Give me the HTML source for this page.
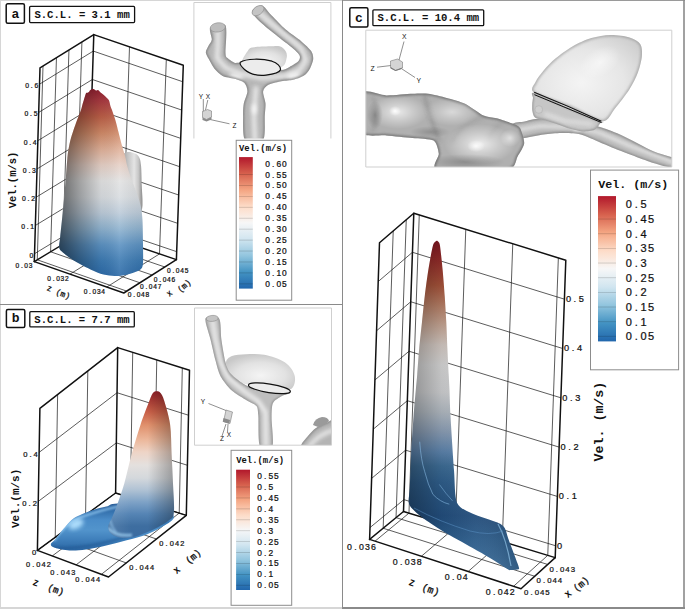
<!DOCTYPE html><html><head><meta charset="utf-8"><style>html,body{margin:0;padding:0;background:#fff;}body{width:685px;height:609px;overflow:hidden;position:relative;}svg{position:absolute;left:0;top:0;}text{font-family:"Liberation Mono",monospace;}</style></head><body>
<svg width="685" height="609" viewBox="0 0 685 609">
<defs><filter id="bl1" filterUnits="userSpaceOnUse" x="-10" y="-10" width="705" height="629"><feGaussianBlur stdDeviation="1.2"/></filter><filter id="bl2" filterUnits="userSpaceOnUse" x="-10" y="-10" width="705" height="629"><feGaussianBlur stdDeviation="2.2"/></filter><filter id="bl05" filterUnits="userSpaceOnUse" x="-10" y="-10" width="705" height="629"><feGaussianBlur stdDeviation="0.6"/></filter></defs>
<rect width="685" height="609" fill="#fff"/>
<line x1="0.00" y1="0.50" x2="342.50" y2="0.50" stroke="#d6d6d6" stroke-width="1" />
<line x1="342.50" y1="0.50" x2="685.00" y2="0.50" stroke="#9a9a9a" stroke-width="1" />
<line x1="0.50" y1="0.00" x2="0.50" y2="609.00" stroke="#d6d6d6" stroke-width="1" />
<line x1="684.00" y1="0.00" x2="684.00" y2="609.00" stroke="#8a8a8a" stroke-width="1.6" />
<line x1="0.00" y1="608.00" x2="342.50" y2="608.00" stroke="#d6d6d6" stroke-width="1.8" />
<line x1="342.50" y1="608.00" x2="685.00" y2="608.00" stroke="#8a8a8a" stroke-width="1.8" />
<line x1="342.50" y1="0.00" x2="342.50" y2="609.00" stroke="#8a8a8a" stroke-width="1" />
<line x1="0.00" y1="304.50" x2="342.50" y2="304.50" stroke="#8a8a8a" stroke-width="1" />
<rect x="6.2" y="3.8" width="18.2" height="19.4" rx="1.5" fill="#fff" stroke="#111" stroke-width="1.5"/>
<text x="15.30" y="18.00" font-size="13" font-weight="bold" text-anchor="middle" fill="#111" >a</text>
<rect x="29.6" y="6.4" width="105.0" height="16.200000000000003" rx="1" fill="#fff" stroke="#111" stroke-width="1.3"/>
<text x="82.10" y="18.30" font-size="10.6" font-weight="bold" text-anchor="middle" fill="#111" >S.C.L. = 3.1 mm</text>
<rect x="6.4" y="309.6" width="18.4" height="18.0" rx="1.5" fill="#fff" stroke="#111" stroke-width="1.5"/>
<text x="15.60" y="322.40" font-size="13" font-weight="bold" text-anchor="middle" fill="#111" >b</text>
<rect x="29.8" y="311.7" width="104.50000000000001" height="15.199999999999989" rx="1" fill="#fff" stroke="#111" stroke-width="1.3"/>
<text x="82.05" y="322.60" font-size="10.6" font-weight="bold" text-anchor="middle" fill="#111" >S.C.L. = 7.7 mm</text>
<rect x="349.8" y="7.8" width="18.099999999999966" height="19.3" rx="1.5" fill="#fff" stroke="#111" stroke-width="1.5"/>
<text x="358.85" y="21.90" font-size="13" font-weight="bold" text-anchor="middle" fill="#111" >c</text>
<rect x="372.9" y="9.8" width="110.80000000000001" height="15.899999999999999" rx="1" fill="#fff" stroke="#111" stroke-width="1.3"/>
<text x="428.30" y="21.40" font-size="10.6" font-weight="bold" text-anchor="middle" fill="#111" >S.C.L. = 10.4 mm</text>
<line x1="34.53" y1="253.69" x2="87.76" y2="221.54" stroke="#151515" stroke-width="0.7" />
<line x1="87.76" y1="221.54" x2="176.68" y2="251.67" stroke="#151515" stroke-width="0.7" />
<line x1="35.36" y1="225.44" x2="88.68" y2="193.13" stroke="#151515" stroke-width="0.7" />
<line x1="88.68" y1="193.13" x2="177.69" y2="223.35" stroke="#151515" stroke-width="0.7" />
<line x1="36.19" y1="197.19" x2="89.59" y2="164.72" stroke="#151515" stroke-width="0.7" />
<line x1="89.59" y1="164.72" x2="178.69" y2="195.02" stroke="#151515" stroke-width="0.7" />
<line x1="37.03" y1="168.94" x2="90.51" y2="136.31" stroke="#151515" stroke-width="0.7" />
<line x1="90.51" y1="136.31" x2="179.70" y2="166.70" stroke="#151515" stroke-width="0.7" />
<line x1="37.86" y1="140.69" x2="91.43" y2="107.90" stroke="#151515" stroke-width="0.7" />
<line x1="91.43" y1="107.90" x2="180.70" y2="138.37" stroke="#151515" stroke-width="0.7" />
<line x1="38.69" y1="112.44" x2="92.35" y2="79.49" stroke="#151515" stroke-width="0.7" />
<line x1="92.35" y1="79.49" x2="181.71" y2="110.05" stroke="#151515" stroke-width="0.7" />
<line x1="39.52" y1="84.19" x2="93.27" y2="51.08" stroke="#151515" stroke-width="0.7" />
<line x1="93.27" y1="51.08" x2="182.72" y2="81.73" stroke="#151515" stroke-width="0.7" />
<line x1="43.01" y1="65.94" x2="37.28" y2="259.80" stroke="#151515" stroke-width="0.7" />
<line x1="56.46" y1="57.64" x2="50.58" y2="251.78" stroke="#151515" stroke-width="0.7" />
<line x1="68.94" y1="49.94" x2="62.92" y2="244.33" stroke="#151515" stroke-width="0.7" />
<line x1="81.91" y1="41.94" x2="75.74" y2="236.59" stroke="#151515" stroke-width="0.7" />
<line x1="129.51" y1="46.85" x2="122.97" y2="241.51" stroke="#151515" stroke-width="0.7" />
<line x1="166.30" y1="59.47" x2="159.51" y2="253.88" stroke="#151515" stroke-width="0.7" />
<line x1="37.28" y1="259.80" x2="126.75" y2="291.13" stroke="#151515" stroke-width="0.7" />
<line x1="50.58" y1="251.78" x2="139.90" y2="282.78" stroke="#151515" stroke-width="0.7" />
<line x1="62.92" y1="244.33" x2="152.10" y2="275.03" stroke="#151515" stroke-width="0.7" />
<line x1="75.74" y1="236.59" x2="164.78" y2="266.98" stroke="#151515" stroke-width="0.7" />
<line x1="122.97" y1="241.51" x2="70.01" y2="274.13" stroke="#151515" stroke-width="0.7" />
<line x1="159.51" y1="253.88" x2="106.80" y2="287.03" stroke="#151515" stroke-width="0.7" />
<polyline points="93.80,34.60 87.50,229.50" fill="none" stroke="#111" stroke-width="1.5" stroke-linejoin="round" stroke-linecap="round"/>
<polyline points="34.30,261.60 87.50,229.50 176.40,259.60" fill="none" stroke="#111" stroke-width="1.4" stroke-linejoin="round" stroke-linecap="round"/>
<line x1="37.40" y1="550.40" x2="115.60" y2="493.00" stroke="#151515" stroke-width="0.7" />
<line x1="115.60" y1="493.00" x2="186.30" y2="515.30" stroke="#151515" stroke-width="0.7" />
<line x1="38.26" y1="501.40" x2="116.32" y2="442.86" stroke="#151515" stroke-width="0.7" />
<line x1="116.32" y1="442.86" x2="187.40" y2="465.27" stroke="#151515" stroke-width="0.7" />
<line x1="39.12" y1="452.40" x2="117.05" y2="392.72" stroke="#151515" stroke-width="0.7" />
<line x1="117.05" y1="392.72" x2="188.51" y2="415.23" stroke="#151515" stroke-width="0.7" />
<line x1="57.64" y1="394.46" x2="55.23" y2="537.31" stroke="#151515" stroke-width="0.7" />
<line x1="87.82" y1="370.91" x2="85.57" y2="515.04" stroke="#151515" stroke-width="0.7" />
<line x1="132.71" y1="352.32" x2="130.38" y2="497.66" stroke="#151515" stroke-width="0.7" />
<line x1="156.76" y1="359.89" x2="154.06" y2="505.13" stroke="#151515" stroke-width="0.7" />
<line x1="182.32" y1="367.94" x2="179.23" y2="513.07" stroke="#151515" stroke-width="0.7" />
<line x1="55.23" y1="537.31" x2="126.24" y2="562.93" stroke="#151515" stroke-width="0.7" />
<line x1="85.57" y1="515.04" x2="156.42" y2="538.99" stroke="#151515" stroke-width="0.7" />
<line x1="130.38" y1="497.66" x2="52.26" y2="555.96" stroke="#151515" stroke-width="0.7" />
<line x1="154.06" y1="505.13" x2="76.08" y2="564.87" stroke="#151515" stroke-width="0.7" />
<line x1="179.23" y1="513.07" x2="101.39" y2="574.34" stroke="#151515" stroke-width="0.7" />
<polyline points="117.70,347.60 115.60,493.00" fill="none" stroke="#111" stroke-width="1.5" stroke-linejoin="round" stroke-linecap="round"/>
<polyline points="37.40,550.40 115.60,493.00 186.30,515.30" fill="none" stroke="#111" stroke-width="1.4" stroke-linejoin="round" stroke-linecap="round"/>
<line x1="369.99" y1="527.59" x2="403.91" y2="499.63" stroke="#151515" stroke-width="0.7" />
<line x1="403.91" y1="499.63" x2="555.62" y2="545.76" stroke="#151515" stroke-width="0.7" />
<line x1="371.64" y1="478.39" x2="405.62" y2="450.16" stroke="#151515" stroke-width="0.7" />
<line x1="405.62" y1="450.16" x2="557.38" y2="496.44" stroke="#151515" stroke-width="0.7" />
<line x1="373.28" y1="429.18" x2="407.33" y2="400.69" stroke="#151515" stroke-width="0.7" />
<line x1="407.33" y1="400.69" x2="559.14" y2="447.12" stroke="#151515" stroke-width="0.7" />
<line x1="374.92" y1="379.98" x2="409.03" y2="351.22" stroke="#151515" stroke-width="0.7" />
<line x1="409.03" y1="351.22" x2="560.90" y2="397.80" stroke="#151515" stroke-width="0.7" />
<line x1="376.56" y1="330.78" x2="410.74" y2="301.75" stroke="#151515" stroke-width="0.7" />
<line x1="410.74" y1="301.75" x2="562.65" y2="348.48" stroke="#151515" stroke-width="0.7" />
<line x1="378.20" y1="281.57" x2="412.45" y2="252.28" stroke="#151515" stroke-width="0.7" />
<line x1="412.45" y1="252.28" x2="564.41" y2="299.16" stroke="#151515" stroke-width="0.7" />
<line x1="393.22" y1="230.90" x2="383.16" y2="528.24" stroke="#151515" stroke-width="0.7" />
<line x1="406.25" y1="219.69" x2="396.04" y2="517.64" stroke="#151515" stroke-width="0.7" />
<line x1="419.27" y1="214.89" x2="408.96" y2="513.16" stroke="#151515" stroke-width="0.7" />
<line x1="465.78" y1="229.27" x2="455.38" y2="527.27" stroke="#151515" stroke-width="0.7" />
<line x1="512.75" y1="243.80" x2="502.26" y2="541.51" stroke="#151515" stroke-width="0.7" />
<line x1="558.35" y1="257.90" x2="547.77" y2="555.34" stroke="#151515" stroke-width="0.7" />
<line x1="383.16" y1="528.24" x2="534.68" y2="576.26" stroke="#151515" stroke-width="0.7" />
<line x1="396.04" y1="517.64" x2="547.68" y2="564.44" stroke="#151515" stroke-width="0.7" />
<line x1="408.96" y1="513.16" x2="375.05" y2="541.17" stroke="#151515" stroke-width="0.7" />
<line x1="455.38" y1="527.27" x2="421.38" y2="556.26" stroke="#151515" stroke-width="0.7" />
<line x1="502.26" y1="541.51" x2="468.16" y2="571.49" stroke="#151515" stroke-width="0.7" />
<line x1="547.77" y1="555.34" x2="513.58" y2="586.28" stroke="#151515" stroke-width="0.7" />
<polyline points="413.80,213.20 403.50,511.50" fill="none" stroke="#111" stroke-width="1.5" stroke-linejoin="round" stroke-linecap="round"/>
<polyline points="369.60,539.40 403.50,511.50 555.20,557.60" fill="none" stroke="#111" stroke-width="1.4" stroke-linejoin="round" stroke-linecap="round"/>
<defs>
<linearGradient id="ga" gradientUnits="userSpaceOnUse" x1="0" y1="89" x2="0" y2="276"><stop offset="0.000" stop-color="#902030"/><stop offset="0.059" stop-color="#a83840"/><stop offset="0.150" stop-color="#bc6048"/><stop offset="0.235" stop-color="#d08a68"/><stop offset="0.321" stop-color="#e0b098"/><stop offset="0.406" stop-color="#e6d0c6"/><stop offset="0.492" stop-color="#e2e2e2"/><stop offset="0.578" stop-color="#d8dce0"/><stop offset="0.663" stop-color="#bccbd9"/><stop offset="0.749" stop-color="#8eb2cf"/><stop offset="0.834" stop-color="#5c92c2"/><stop offset="0.920" stop-color="#3c7ab2"/><stop offset="1.000" stop-color="#2c6aa8"/></linearGradient>
<linearGradient id="shA" gradientUnits="objectBoundingBox" x1="0" y1="0" x2="1" y2="0"><stop offset="0.000" stop-color="#000" stop-opacity="0.55"/><stop offset="0.250" stop-color="#000" stop-opacity="0.28"/><stop offset="0.500" stop-color="#000" stop-opacity="0.05"/><stop offset="0.720" stop-color="#fff" stop-opacity="0.1"/><stop offset="1.000" stop-color="#000" stop-opacity="0.06"/></linearGradient>
<linearGradient id="lobe" gradientUnits="objectBoundingBox" x1="0" y1="0" x2="1" y2="0"><stop offset="0.000" stop-color="#9a9a9a"/><stop offset="0.300" stop-color="#c4c4c4"/><stop offset="0.600" stop-color="#e4e4e4"/><stop offset="0.800" stop-color="#c8c8c8"/><stop offset="1.000" stop-color="#8a8a8a"/></linearGradient>
<linearGradient id="gb" gradientUnits="userSpaceOnUse" x1="0" y1="391" x2="0" y2="540"><stop offset="0.000" stop-color="#902028"/><stop offset="0.060" stop-color="#a83a34"/><stop offset="0.141" stop-color="#c86048"/><stop offset="0.228" stop-color="#e0906c"/><stop offset="0.329" stop-color="#ecb89c"/><stop offset="0.409" stop-color="#eed4c6"/><stop offset="0.497" stop-color="#e4e0de"/><stop offset="0.584" stop-color="#d4d8dc"/><stop offset="0.664" stop-color="#b0c2d4"/><stop offset="0.745" stop-color="#7ea2c6"/><stop offset="0.826" stop-color="#5584b4"/><stop offset="0.906" stop-color="#3e6ea0"/><stop offset="1.000" stop-color="#3a6aa0"/></linearGradient>
<linearGradient id="shB" gradientUnits="objectBoundingBox" x1="0" y1="0" x2="1" y2="0"><stop offset="0.000" stop-color="#fff" stop-opacity="0.12"/><stop offset="0.350" stop-color="#fff" stop-opacity="0"/><stop offset="0.600" stop-color="#000" stop-opacity="0.0"/><stop offset="1.000" stop-color="#000" stop-opacity="0.3"/></linearGradient>
<linearGradient id="tongue" gradientUnits="userSpaceOnUse" x1="0" y1="503" x2="0" y2="551"><stop offset="0.000" stop-color="#2a5c96"/><stop offset="0.167" stop-color="#3470ac"/><stop offset="0.354" stop-color="#4a8cc8"/><stop offset="0.562" stop-color="#5294cc"/><stop offset="0.771" stop-color="#3e7eba"/><stop offset="1.000" stop-color="#2a64a0"/></linearGradient>
<linearGradient id="gc" gradientUnits="userSpaceOnUse" x1="0" y1="241" x2="0" y2="570"><stop offset="0.000" stop-color="#7a1520"/><stop offset="0.058" stop-color="#8e2a28"/><stop offset="0.134" stop-color="#a05038"/><stop offset="0.195" stop-color="#b07a62"/><stop offset="0.255" stop-color="#bfa08f"/><stop offset="0.316" stop-color="#ccc2bc"/><stop offset="0.377" stop-color="#cfcfcf"/><stop offset="0.459" stop-color="#c8c9cb"/><stop offset="0.520" stop-color="#acb4bc"/><stop offset="0.581" stop-color="#8699b0"/><stop offset="0.641" stop-color="#5a80a8"/><stop offset="0.684" stop-color="#3c6a92"/><stop offset="0.733" stop-color="#2e5c88"/><stop offset="0.781" stop-color="#285480"/><stop offset="0.836" stop-color="#224c7a"/><stop offset="0.909" stop-color="#2a5a88"/><stop offset="1.000" stop-color="#3a6c9a"/></linearGradient>
<linearGradient id="shC" gradientUnits="objectBoundingBox" x1="0" y1="0" x2="1" y2="0"><stop offset="0.000" stop-color="#000" stop-opacity="0.3"/><stop offset="0.300" stop-color="#000" stop-opacity="0.05"/><stop offset="0.600" stop-color="#fff" stop-opacity="0.05"/><stop offset="1.000" stop-color="#000" stop-opacity="0.15"/></linearGradient>
</defs>
<path d="M121.50,158.00 C121.50,154.42 122.75,154.50 124.00,153.50 C125.25,152.50 127.17,152.00 129.00,152.00 C130.83,152.00 133.33,152.67 135.00,153.50 C136.67,154.33 138.00,155.03 139.00,157.00 C140.00,158.97 140.53,160.47 141.00,165.30 C141.47,170.13 141.55,179.38 141.80,186.00 C142.05,192.62 142.80,200.67 142.50,205.00 C142.20,209.33 141.58,212.83 140.00,212.00 C138.42,211.17 135.67,206.17 133.00,200.00 C130.33,193.83 125.92,182.00 124.00,175.00 C122.08,168.00 121.50,161.58 121.50,158.00Z" fill="url(#lobe)"/>
<path d="M59.20,247.20 C58.95,245.01 59.74,241.60 60.20,237.00 C60.66,232.40 61.68,222.65 62.30,216.50 C62.91,210.35 63.74,202.15 64.30,196.00 C64.86,189.85 65.56,180.90 66.00,175.50 C66.44,170.10 66.87,163.66 67.20,160.00 C67.53,156.34 67.75,153.97 68.20,151.10 C68.65,148.23 69.44,143.96 70.20,140.90 C70.97,137.84 72.30,133.77 73.30,130.70 C74.30,127.62 75.76,123.48 76.90,120.40 C78.04,117.33 80.05,112.66 80.90,110.20 C81.76,107.74 82.00,106.07 82.60,104.00 C83.20,101.93 84.36,98.04 84.90,96.40 C85.44,94.77 85.77,93.64 86.20,93.10 C86.64,92.56 87.36,92.99 87.80,92.80 C88.23,92.61 88.80,92.14 89.10,91.80 C89.40,91.45 89.50,90.84 89.80,90.50 C90.10,90.16 90.71,89.74 91.10,89.50 C91.49,89.26 91.95,88.95 92.40,88.90 C92.85,88.86 93.65,89.01 94.10,89.20 C94.55,89.39 95.01,90.01 95.40,90.20 C95.79,90.39 96.36,90.55 96.70,90.50 C97.05,90.45 97.40,89.90 97.70,89.90 C98.00,89.90 98.16,90.02 98.70,90.50 C99.24,90.98 100.41,92.30 101.30,93.10 C102.19,93.89 103.61,94.90 104.60,95.80 C105.59,96.70 107.21,98.32 107.90,99.10 C108.59,99.88 108.81,99.92 109.20,101.00 C109.59,102.08 110.11,105.01 110.50,106.30 C110.89,107.59 111.35,108.35 111.80,109.60 C112.25,110.84 112.89,112.75 113.50,114.60 C114.11,116.44 115.17,119.32 115.90,121.90 C116.64,124.48 117.65,128.83 118.40,131.80 C119.15,134.77 120.17,138.92 120.90,141.70 C121.64,144.47 122.66,148.09 123.30,150.30 C123.94,152.51 124.56,153.81 125.20,156.40 C125.84,159.00 126.55,163.85 127.60,167.60 C128.65,171.35 130.82,177.61 132.20,181.40 C133.58,185.19 135.50,189.11 136.80,192.90 C138.11,196.69 140.05,202.56 140.90,206.70 C141.75,210.84 142.19,215.00 142.50,220.50 C142.81,226.00 142.93,237.07 143.00,243.40 C143.07,249.73 143.30,258.86 143.00,262.70 C142.70,266.54 142.35,267.55 141.00,269.00 C139.65,270.45 136.50,271.47 134.00,272.40 C131.50,273.33 127.21,274.68 124.30,275.20 C121.39,275.72 117.72,276.00 114.60,275.90 C111.48,275.79 107.04,275.43 103.50,274.50 C99.96,273.57 94.53,271.26 91.00,269.70 C87.47,268.14 83.31,265.98 80.00,264.10 C76.69,262.23 71.62,259.07 68.90,257.20 C66.19,255.32 63.35,253.10 61.90,251.60 C60.45,250.10 59.46,249.39 59.20,247.20Z" fill="url(#ga)"/><path d="M59.20,247.20 C58.95,245.01 59.74,241.60 60.20,237.00 C60.66,232.40 61.68,222.65 62.30,216.50 C62.91,210.35 63.74,202.15 64.30,196.00 C64.86,189.85 65.56,180.90 66.00,175.50 C66.44,170.10 66.87,163.66 67.20,160.00 C67.53,156.34 67.75,153.97 68.20,151.10 C68.65,148.23 69.44,143.96 70.20,140.90 C70.97,137.84 72.30,133.77 73.30,130.70 C74.30,127.62 75.76,123.48 76.90,120.40 C78.04,117.33 80.05,112.66 80.90,110.20 C81.76,107.74 82.00,106.07 82.60,104.00 C83.20,101.93 84.36,98.04 84.90,96.40 C85.44,94.77 85.77,93.64 86.20,93.10 C86.64,92.56 87.36,92.99 87.80,92.80 C88.23,92.61 88.80,92.14 89.10,91.80 C89.40,91.45 89.50,90.84 89.80,90.50 C90.10,90.16 90.71,89.74 91.10,89.50 C91.49,89.26 91.95,88.95 92.40,88.90 C92.85,88.86 93.65,89.01 94.10,89.20 C94.55,89.39 95.01,90.01 95.40,90.20 C95.79,90.39 96.36,90.55 96.70,90.50 C97.05,90.45 97.40,89.90 97.70,89.90 C98.00,89.90 98.16,90.02 98.70,90.50 C99.24,90.98 100.41,92.30 101.30,93.10 C102.19,93.89 103.61,94.90 104.60,95.80 C105.59,96.70 107.21,98.32 107.90,99.10 C108.59,99.88 108.81,99.92 109.20,101.00 C109.59,102.08 110.11,105.01 110.50,106.30 C110.89,107.59 111.35,108.35 111.80,109.60 C112.25,110.84 112.89,112.75 113.50,114.60 C114.11,116.44 115.17,119.32 115.90,121.90 C116.64,124.48 117.65,128.83 118.40,131.80 C119.15,134.77 120.17,138.92 120.90,141.70 C121.64,144.47 122.66,148.09 123.30,150.30 C123.94,152.51 124.56,153.81 125.20,156.40 C125.84,159.00 126.55,163.85 127.60,167.60 C128.65,171.35 130.82,177.61 132.20,181.40 C133.58,185.19 135.50,189.11 136.80,192.90 C138.11,196.69 140.05,202.56 140.90,206.70 C141.75,210.84 142.19,215.00 142.50,220.50 C142.81,226.00 142.93,237.07 143.00,243.40 C143.07,249.73 143.30,258.86 143.00,262.70 C142.70,266.54 142.35,267.55 141.00,269.00 C139.65,270.45 136.50,271.47 134.00,272.40 C131.50,273.33 127.21,274.68 124.30,275.20 C121.39,275.72 117.72,276.00 114.60,275.90 C111.48,275.79 107.04,275.43 103.50,274.50 C99.96,273.57 94.53,271.26 91.00,269.70 C87.47,268.14 83.31,265.98 80.00,264.10 C76.69,262.23 71.62,259.07 68.90,257.20 C66.19,255.32 63.35,253.10 61.90,251.60 C60.45,250.10 59.46,249.39 59.20,247.20Z" fill="url(#shA)"/>
<path d="M117.60,503.50 C108.65,503.77 110.57,505.48 106.30,506.60 C102.03,507.72 96.43,508.75 92.00,510.20 C87.57,511.65 83.10,513.68 79.70,515.30 C76.30,516.92 74.32,517.62 71.60,519.90 C68.88,522.18 66.13,525.77 63.40,529.00 C60.67,532.23 57.30,536.73 55.20,539.30 C53.10,541.87 50.83,542.98 50.80,544.40 C50.77,545.82 51.88,546.78 55.00,547.80 C58.12,548.82 64.35,550.22 69.50,550.50 C74.65,550.78 79.77,550.35 85.90,549.50 C92.03,548.65 99.50,546.93 106.30,545.40 C113.10,543.87 119.88,542.17 126.70,540.30 C133.52,538.43 141.07,536.58 147.20,534.20 C153.33,531.82 159.07,528.90 163.50,526.00 C167.93,523.10 174.38,520.30 173.80,516.80 C173.22,513.30 169.37,507.22 160.00,505.00 C150.63,502.78 126.55,503.23 117.60,503.50Z" fill="url(#tongue)"/>
<clipPath id="tclip"><path d="M117.60,503.50 C108.65,503.77 110.57,505.48 106.30,506.60 C102.03,507.72 96.43,508.75 92.00,510.20 C87.57,511.65 83.10,513.68 79.70,515.30 C76.30,516.92 74.32,517.62 71.60,519.90 C68.88,522.18 66.13,525.77 63.40,529.00 C60.67,532.23 57.30,536.73 55.20,539.30 C53.10,541.87 50.83,542.98 50.80,544.40 C50.77,545.82 51.88,546.78 55.00,547.80 C58.12,548.82 64.35,550.22 69.50,550.50 C74.65,550.78 79.77,550.35 85.90,549.50 C92.03,548.65 99.50,546.93 106.30,545.40 C113.10,543.87 119.88,542.17 126.70,540.30 C133.52,538.43 141.07,536.58 147.20,534.20 C153.33,531.82 159.07,528.90 163.50,526.00 C167.93,523.10 174.38,520.30 173.80,516.80 C173.22,513.30 169.37,507.22 160.00,505.00 C150.63,502.78 126.55,503.23 117.60,503.50Z"/></clipPath>
<g clip-path="url(#tclip)"><path d="M54,541 Q64,524 80,517.5 Q98,511 120,506" fill="none" stroke="#9fd4fa" stroke-width="2" filter="url(#bl1)" opacity="0.8"/><ellipse cx="76" cy="524" rx="8" ry="4.5" transform="rotate(-25 76 524)" fill="#b4e2ff" filter="url(#bl2)" opacity="0.95"/><path d="M52,547 Q90,553 170,521" fill="none" stroke="#1e5490" stroke-width="2" filter="url(#bl1)" opacity="0.6"/></g>
<path d="M156.80,391.20 C158.05,391.20 159.27,391.42 160.50,393.00 C161.73,394.58 162.60,395.47 164.20,400.70 C165.80,405.93 168.87,415.52 170.10,424.40 C171.33,433.28 171.12,444.15 171.60,454.00 C172.08,463.85 172.63,473.72 173.00,483.50 C173.37,493.28 174.63,506.45 173.80,512.70 C172.97,518.95 171.97,517.95 168.00,521.00 C164.03,524.05 156.17,528.25 150.00,531.00 C143.83,533.75 136.17,536.42 131.00,537.50 C125.83,538.58 122.43,538.23 119.00,537.50 C115.57,536.77 112.18,535.02 110.40,533.10 C108.62,531.18 107.97,528.72 108.30,526.00 C108.63,523.28 110.85,520.55 112.40,516.80 C113.95,513.05 115.62,509.05 117.60,503.50 C119.58,497.95 121.95,491.75 124.30,483.50 C126.65,475.25 128.98,463.85 131.70,454.00 C134.42,444.15 137.65,433.28 140.60,424.40 C143.55,415.52 147.33,405.93 149.40,400.70 C151.47,395.47 151.77,394.58 153.00,393.00 C154.23,391.42 155.55,391.20 156.80,391.20Z" fill="url(#gb)"/><path d="M156.80,391.20 C158.05,391.20 159.27,391.42 160.50,393.00 C161.73,394.58 162.60,395.47 164.20,400.70 C165.80,405.93 168.87,415.52 170.10,424.40 C171.33,433.28 171.12,444.15 171.60,454.00 C172.08,463.85 172.63,473.72 173.00,483.50 C173.37,493.28 174.63,506.45 173.80,512.70 C172.97,518.95 171.97,517.95 168.00,521.00 C164.03,524.05 156.17,528.25 150.00,531.00 C143.83,533.75 136.17,536.42 131.00,537.50 C125.83,538.58 122.43,538.23 119.00,537.50 C115.57,536.77 112.18,535.02 110.40,533.10 C108.62,531.18 107.97,528.72 108.30,526.00 C108.63,523.28 110.85,520.55 112.40,516.80 C113.95,513.05 115.62,509.05 117.60,503.50 C119.58,497.95 121.95,491.75 124.30,483.50 C126.65,475.25 128.98,463.85 131.70,454.00 C134.42,444.15 137.65,433.28 140.60,424.40 C143.55,415.52 147.33,405.93 149.40,400.70 C151.47,395.47 151.77,394.58 153.00,393.00 C154.23,391.42 155.55,391.20 156.80,391.20Z" fill="url(#shB)"/>
<clipPath id="pbclip"><path d="M156.80,391.20 C158.05,391.20 159.27,391.42 160.50,393.00 C161.73,394.58 162.60,395.47 164.20,400.70 C165.80,405.93 168.87,415.52 170.10,424.40 C171.33,433.28 171.12,444.15 171.60,454.00 C172.08,463.85 172.63,473.72 173.00,483.50 C173.37,493.28 174.63,506.45 173.80,512.70 C172.97,518.95 171.97,517.95 168.00,521.00 C164.03,524.05 156.17,528.25 150.00,531.00 C143.83,533.75 136.17,536.42 131.00,537.50 C125.83,538.58 122.43,538.23 119.00,537.50 C115.57,536.77 112.18,535.02 110.40,533.10 C108.62,531.18 107.97,528.72 108.30,526.00 C108.63,523.28 110.85,520.55 112.40,516.80 C113.95,513.05 115.62,509.05 117.60,503.50 C119.58,497.95 121.95,491.75 124.30,483.50 C126.65,475.25 128.98,463.85 131.70,454.00 C134.42,444.15 137.65,433.28 140.60,424.40 C143.55,415.52 147.33,405.93 149.40,400.70 C151.47,395.47 151.77,394.58 153.00,393.00 C154.23,391.42 155.55,391.20 156.80,391.20Z"/></clipPath>
<g clip-path="url(#pbclip)"><path d="M108,528 Q116,537 132,535" fill="none" stroke="#a6d6f6" stroke-width="3" filter="url(#bl1)" opacity="0.7"/><path d="M110,520 Q112,528 116,532" fill="none" stroke="#9ccff4" stroke-width="2" filter="url(#bl1)" opacity="0.6"/></g>
<path d="M436.30,241.00 C437.05,240.49 438.01,241.36 438.50,242.00 C438.99,242.64 439.45,242.13 440.00,245.80 C440.55,249.47 441.97,262.83 442.60,269.50 C443.23,276.17 444.21,288.80 444.70,295.80 C445.19,302.80 445.94,314.99 446.30,322.00 C446.66,329.01 447.08,341.37 447.40,348.40 C447.72,355.43 448.42,369.15 448.70,374.70 C448.98,380.25 449.26,384.49 449.50,390.00 C449.74,395.51 449.90,405.31 450.50,416.00 C451.10,426.69 453.13,458.64 454.00,470.20 C454.87,481.76 454.57,496.93 457.00,502.70 C459.43,508.47 466.81,510.86 472.20,513.50 C477.59,516.14 493.07,520.57 497.40,522.50 C501.73,524.43 503.25,525.83 504.70,528.00 C506.15,530.17 507.10,535.44 508.30,538.80 C509.50,542.16 512.27,549.35 513.70,553.20 C515.13,557.05 518.52,565.53 519.00,567.70 C519.48,569.87 518.50,569.19 517.30,569.50 C516.10,569.81 511.20,570.00 510.00,570.00 C508.80,570.00 510.97,571.10 508.30,569.50 C505.63,567.90 494.81,560.89 490.00,558.00 C485.19,555.11 478.43,551.32 472.20,547.80 C465.97,544.28 450.03,535.69 443.30,531.60 C436.57,527.51 426.23,520.71 421.70,517.10 C417.17,513.49 410.89,508.34 409.30,504.50 C407.71,500.66 409.55,495.27 409.80,488.30 C410.05,481.33 410.69,461.84 411.20,452.20 C411.71,442.56 412.99,424.29 413.60,416.00 C414.21,407.71 415.32,395.51 415.80,390.00 C416.28,384.49 416.75,380.25 417.20,374.70 C417.65,369.15 418.56,355.43 419.20,348.40 C419.84,341.37 421.25,329.01 422.00,322.00 C422.75,314.99 423.95,302.80 424.80,295.80 C425.65,288.80 427.32,276.17 428.40,269.50 C429.48,262.83 431.85,249.60 432.90,245.80 C433.95,242.00 435.55,241.51 436.30,241.00Z" fill="url(#gc)"/><path d="M436.30,241.00 C437.05,240.49 438.01,241.36 438.50,242.00 C438.99,242.64 439.45,242.13 440.00,245.80 C440.55,249.47 441.97,262.83 442.60,269.50 C443.23,276.17 444.21,288.80 444.70,295.80 C445.19,302.80 445.94,314.99 446.30,322.00 C446.66,329.01 447.08,341.37 447.40,348.40 C447.72,355.43 448.42,369.15 448.70,374.70 C448.98,380.25 449.26,384.49 449.50,390.00 C449.74,395.51 449.90,405.31 450.50,416.00 C451.10,426.69 453.13,458.64 454.00,470.20 C454.87,481.76 454.57,496.93 457.00,502.70 C459.43,508.47 466.81,510.86 472.20,513.50 C477.59,516.14 493.07,520.57 497.40,522.50 C501.73,524.43 503.25,525.83 504.70,528.00 C506.15,530.17 507.10,535.44 508.30,538.80 C509.50,542.16 512.27,549.35 513.70,553.20 C515.13,557.05 518.52,565.53 519.00,567.70 C519.48,569.87 518.50,569.19 517.30,569.50 C516.10,569.81 511.20,570.00 510.00,570.00 C508.80,570.00 510.97,571.10 508.30,569.50 C505.63,567.90 494.81,560.89 490.00,558.00 C485.19,555.11 478.43,551.32 472.20,547.80 C465.97,544.28 450.03,535.69 443.30,531.60 C436.57,527.51 426.23,520.71 421.70,517.10 C417.17,513.49 410.89,508.34 409.30,504.50 C407.71,500.66 409.55,495.27 409.80,488.30 C410.05,481.33 410.69,461.84 411.20,452.20 C411.71,442.56 412.99,424.29 413.60,416.00 C414.21,407.71 415.32,395.51 415.80,390.00 C416.28,384.49 416.75,380.25 417.20,374.70 C417.65,369.15 418.56,355.43 419.20,348.40 C419.84,341.37 421.25,329.01 422.00,322.00 C422.75,314.99 423.95,302.80 424.80,295.80 C425.65,288.80 427.32,276.17 428.40,269.50 C429.48,262.83 431.85,249.60 432.90,245.80 C433.95,242.00 435.55,241.51 436.30,241.00Z" fill="url(#shC)"/>
<clipPath id="scclip"><path d="M436.30,241.00 C437.05,240.49 438.01,241.36 438.50,242.00 C438.99,242.64 439.45,242.13 440.00,245.80 C440.55,249.47 441.97,262.83 442.60,269.50 C443.23,276.17 444.21,288.80 444.70,295.80 C445.19,302.80 445.94,314.99 446.30,322.00 C446.66,329.01 447.08,341.37 447.40,348.40 C447.72,355.43 448.42,369.15 448.70,374.70 C448.98,380.25 449.26,384.49 449.50,390.00 C449.74,395.51 449.90,405.31 450.50,416.00 C451.10,426.69 453.13,458.64 454.00,470.20 C454.87,481.76 454.57,496.93 457.00,502.70 C459.43,508.47 466.81,510.86 472.20,513.50 C477.59,516.14 493.07,520.57 497.40,522.50 C501.73,524.43 503.25,525.83 504.70,528.00 C506.15,530.17 507.10,535.44 508.30,538.80 C509.50,542.16 512.27,549.35 513.70,553.20 C515.13,557.05 518.52,565.53 519.00,567.70 C519.48,569.87 518.50,569.19 517.30,569.50 C516.10,569.81 511.20,570.00 510.00,570.00 C508.80,570.00 510.97,571.10 508.30,569.50 C505.63,567.90 494.81,560.89 490.00,558.00 C485.19,555.11 478.43,551.32 472.20,547.80 C465.97,544.28 450.03,535.69 443.30,531.60 C436.57,527.51 426.23,520.71 421.70,517.10 C417.17,513.49 410.89,508.34 409.30,504.50 C407.71,500.66 409.55,495.27 409.80,488.30 C410.05,481.33 410.69,461.84 411.20,452.20 C411.71,442.56 412.99,424.29 413.60,416.00 C414.21,407.71 415.32,395.51 415.80,390.00 C416.28,384.49 416.75,380.25 417.20,374.70 C417.65,369.15 418.56,355.43 419.20,348.40 C419.84,341.37 421.25,329.01 422.00,322.00 C422.75,314.99 423.95,302.80 424.80,295.80 C425.65,288.80 427.32,276.17 428.40,269.50 C429.48,262.83 431.85,249.60 432.90,245.80 C433.95,242.00 435.55,241.51 436.30,241.00Z"/></clipPath>
<g clip-path="url(#scclip)" fill="none" filter="url(#bl05)"><path d="M419.7,441.7 Q421,460 424.6,471.3 Q428,485 432.9,494.3 Q440,502 449.3,504.2" stroke="#8cc0ea" stroke-width="1" opacity="0.55"/><path d="M439.4,484.5 Q446,494 452.6,500.9" stroke="#8cc0ea" stroke-width="0.9" opacity="0.5"/><path d="M498,524 Q506,538 511,566" stroke="#a0d4f6" stroke-width="1.2" opacity="0.6"/><path d="M414,508 Q440,522 470,531 Q490,536 503,531" stroke="#5c94c8" stroke-width="1" opacity="0.5"/></g>
<polyline points="34.30,261.60 40.00,67.80 93.80,34.60 183.30,65.30 176.40,259.60" fill="none" stroke="#111" stroke-width="1.5" stroke-linejoin="round" stroke-linecap="round"/>
<polyline points="34.30,261.60 123.80,293.00 176.40,259.60" fill="none" stroke="#111" stroke-width="1.5" stroke-linejoin="round" stroke-linecap="round"/>
<polyline points="37.40,550.40 39.90,408.30 117.70,347.60 189.50,370.20 186.30,515.30" fill="none" stroke="#111" stroke-width="1.5" stroke-linejoin="round" stroke-linecap="round"/>
<polyline points="37.40,550.40 108.50,577.00 186.30,515.30" fill="none" stroke="#111" stroke-width="1.5" stroke-linejoin="round" stroke-linecap="round"/>
<polyline points="369.60,539.40 379.50,242.70 413.80,213.20 565.80,260.20 555.20,557.60" fill="none" stroke="#111" stroke-width="1.5" stroke-linejoin="round" stroke-linecap="round"/>
<polyline points="369.60,539.40 521.00,588.70 555.20,557.60" fill="none" stroke="#111" stroke-width="1.5" stroke-linejoin="round" stroke-linecap="round"/>
<text x="29.54" y="257.60" font-size="6.8" font-weight="normal" fill="#111" stroke="#111" stroke-width="0.24" style="font-family:Liberation Sans">0</text>
<text x="21.17 26.72 30.37" y="229.35" font-size="6.8" font-weight="normal" fill="#111" stroke="#111" stroke-width="0.24" style="font-family:Liberation Sans">0.1</text>
<text x="22.00 27.55 31.20" y="201.10" font-size="6.8" font-weight="normal" fill="#111" stroke="#111" stroke-width="0.24" style="font-family:Liberation Sans">0.2</text>
<text x="22.83 28.38 32.03" y="172.84" font-size="6.8" font-weight="normal" fill="#111" stroke="#111" stroke-width="0.24" style="font-family:Liberation Sans">0.3</text>
<text x="23.67 29.21 32.87" y="144.59" font-size="6.8" font-weight="normal" fill="#111" stroke="#111" stroke-width="0.24" style="font-family:Liberation Sans">0.4</text>
<text x="24.50 30.04 33.70" y="116.34" font-size="6.8" font-weight="normal" fill="#111" stroke="#111" stroke-width="0.24" style="font-family:Liberation Sans">0.5</text>
<text x="25.33 30.87 34.53" y="88.09" font-size="6.8" font-weight="normal" fill="#111" stroke="#111" stroke-width="0.24" style="font-family:Liberation Sans">0.6</text>
<text x="0" y="0" font-size="10.5" font-weight="bold" font-style="normal" text-anchor="middle" dominant-baseline="central" fill="#111" transform="translate(12.80,180.00) rotate(-90)">Vel.(m/s)</text>
<text x="15.57 20.88 24.37 28.77" y="267.64" font-size="6.6" font-weight="normal" fill="#111" stroke="#111" stroke-width="0.24" style="font-family:Liberation Sans">0.03</text>
<text x="47.37 52.68 56.17 60.57 64.97" y="280.74" font-size="6.6" font-weight="normal" fill="#111" stroke="#111" stroke-width="0.24" style="font-family:Liberation Sans">0.032</text>
<text x="83.77 89.08 92.57 96.97 101.37" y="293.54" font-size="6.6" font-weight="normal" fill="#111" stroke="#111" stroke-width="0.24" style="font-family:Liberation Sans">0.034</text>
<text x="167.07 172.38 175.87 180.27 184.67" y="273.14" font-size="6.6" font-weight="normal" fill="#111" stroke="#111" stroke-width="0.24" style="font-family:Liberation Sans">0.045</text>
<text x="153.87 159.18 162.67 167.07 171.47" y="281.54" font-size="6.6" font-weight="normal" fill="#111" stroke="#111" stroke-width="0.24" style="font-family:Liberation Sans">0.046</text>
<text x="140.07 145.38 148.87 153.27 157.67" y="289.34" font-size="6.6" font-weight="normal" fill="#111" stroke="#111" stroke-width="0.24" style="font-family:Liberation Sans">0.047</text>
<text x="127.87 133.18 136.67 141.07 145.47" y="297.34" font-size="6.6" font-weight="normal" fill="#111" stroke="#111" stroke-width="0.24" style="font-family:Liberation Sans">0.048</text>
<text x="0" y="0" font-size="7.6" font-weight="bold" font-style="normal" text-anchor="middle" dominant-baseline="central" fill="#111" transform="translate(49.20,289.20) rotate(20)">Z</text>
<text x="0" y="0" font-size="8.2" font-weight="normal" font-style="normal" text-anchor="middle" dominant-baseline="central" fill="#111" stroke="#111" stroke-width="0.3" transform="translate(63.00,294.20) rotate(20)">(m)</text>
<text x="0" y="0" font-size="7.6" font-weight="bold" font-style="normal" text-anchor="middle" dominant-baseline="central" fill="#111" transform="translate(170.00,293.90) rotate(-40)">X</text>
<text x="0" y="0" font-size="8.2" font-weight="normal" font-style="normal" text-anchor="middle" dominant-baseline="central" fill="#111" stroke="#111" stroke-width="0.3" transform="translate(184.20,286.00) rotate(-40)">(m)</text>
<text x="31.89" y="554.69" font-size="7.6" font-weight="normal" fill="#111" stroke="#111" stroke-width="0.24" style="font-family:Liberation Sans">0</text>
<text x="22.35 28.61 32.75" y="505.69" font-size="7.6" font-weight="normal" fill="#111" stroke="#111" stroke-width="0.24" style="font-family:Liberation Sans">0.2</text>
<text x="23.21 29.47 33.61" y="456.69" font-size="7.6" font-weight="normal" fill="#111" stroke="#111" stroke-width="0.24" style="font-family:Liberation Sans">0.4</text>
<text x="0" y="0" font-size="11" font-weight="bold" font-style="normal" text-anchor="middle" dominant-baseline="central" fill="#111" transform="translate(16.00,498.40) rotate(-90)">Vel.(m/s)</text>
<text x="25.94 32.17 36.34 41.54 46.74" y="567.42" font-size="7.4" font-weight="normal" fill="#111" stroke="#111" stroke-width="0.24" style="font-family:Liberation Sans">0.042</text>
<text x="50.34 56.57 60.74 65.94 71.14" y="574.82" font-size="7.4" font-weight="normal" fill="#111" stroke="#111" stroke-width="0.24" style="font-family:Liberation Sans">0.043</text>
<text x="75.14 81.37 85.54 90.74 95.94" y="581.62" font-size="7.4" font-weight="normal" fill="#111" stroke="#111" stroke-width="0.24" style="font-family:Liberation Sans">0.044</text>
<text x="159.34 165.57 169.74 174.94 180.14" y="546.42" font-size="7.4" font-weight="normal" fill="#111" stroke="#111" stroke-width="0.24" style="font-family:Liberation Sans">0.042</text>
<text x="129.14 135.37 139.54 144.74 149.94" y="570.32" font-size="7.4" font-weight="normal" fill="#111" stroke="#111" stroke-width="0.24" style="font-family:Liberation Sans">0.044</text>
<text x="0" y="0" font-size="8.8" font-weight="bold" font-style="normal" text-anchor="middle" dominant-baseline="central" fill="#111" transform="translate(35.30,583.80) rotate(20)">Z</text>
<text x="0" y="0" font-size="9.4" font-weight="normal" font-style="normal" text-anchor="middle" dominant-baseline="central" fill="#111" stroke="#111" stroke-width="0.35" transform="translate(55.80,590.30) rotate(20)">(m)</text>
<text x="0" y="0" font-size="8.8" font-weight="bold" font-style="normal" text-anchor="middle" dominant-baseline="central" fill="#111" transform="translate(177.50,571.00) rotate(-40)">X</text>
<text x="0" y="0" font-size="9.4" font-weight="normal" font-style="normal" text-anchor="middle" dominant-baseline="central" fill="#111" stroke="#111" stroke-width="0.35" transform="translate(193.50,557.00) rotate(-40)">(m)</text>
<text x="557.09" y="548.52" font-size="9.2" font-weight="normal" fill="#111" stroke="#111" stroke-width="0.24" style="font-family:Liberation Sans">0</text>
<text x="558.85 566.58 571.75" y="499.20" font-size="9.2" font-weight="normal" fill="#111" stroke="#111" stroke-width="0.24" style="font-family:Liberation Sans">0.1</text>
<text x="560.61 568.33 573.51" y="449.88" font-size="9.2" font-weight="normal" fill="#111" stroke="#111" stroke-width="0.24" style="font-family:Liberation Sans">0.2</text>
<text x="562.36 570.09 575.26" y="400.56" font-size="9.2" font-weight="normal" fill="#111" stroke="#111" stroke-width="0.24" style="font-family:Liberation Sans">0.3</text>
<text x="564.12 571.85 577.02" y="351.24" font-size="9.2" font-weight="normal" fill="#111" stroke="#111" stroke-width="0.24" style="font-family:Liberation Sans">0.4</text>
<text x="565.88 573.61 578.78" y="301.92" font-size="9.2" font-weight="normal" fill="#111" stroke="#111" stroke-width="0.24" style="font-family:Liberation Sans">0.5</text>
<text x="0" y="0" font-size="13.3" font-weight="bold" font-style="normal" text-anchor="middle" dominant-baseline="central" fill="#111" transform="translate(599.50,421.60) rotate(-90)">Vel. (m/s)</text>
<text x="346.95 354.18 358.95 364.95 370.95" y="550.12" font-size="8.8" font-weight="normal" fill="#111" stroke="#111" stroke-width="0.24" style="font-family:Liberation Sans">0.036</text>
<text x="392.85 400.08 404.85 410.85 416.85" y="565.12" font-size="8.8" font-weight="normal" fill="#111" stroke="#111" stroke-width="0.24" style="font-family:Liberation Sans">0.038</text>
<text x="444.75 451.98 456.75 462.75" y="579.72" font-size="8.8" font-weight="normal" fill="#111" stroke="#111" stroke-width="0.24" style="font-family:Liberation Sans">0.04</text>
<text x="485.85 493.08 497.85 503.85 509.85" y="594.52" font-size="8.8" font-weight="normal" fill="#111" stroke="#111" stroke-width="0.24" style="font-family:Liberation Sans">0.042</text>
<text x="549.43 555.82 560.03 565.33 570.63" y="571.96" font-size="7.8" font-weight="normal" fill="#111" stroke="#111" stroke-width="0.24" style="font-family:Liberation Sans">0.043</text>
<text x="536.53 542.92 547.13 552.43 557.73" y="583.16" font-size="7.8" font-weight="normal" fill="#111" stroke="#111" stroke-width="0.24" style="font-family:Liberation Sans">0.044</text>
<text x="524.03 530.42 534.63 539.93 545.23" y="595.26" font-size="7.8" font-weight="normal" fill="#111" stroke="#111" stroke-width="0.24" style="font-family:Liberation Sans">0.045</text>
<text x="0" y="0" font-size="9.2" font-weight="bold" font-style="normal" text-anchor="middle" dominant-baseline="central" fill="#111" transform="translate(411.80,583.30) rotate(20)">Z</text>
<text x="0" y="0" font-size="10" font-weight="normal" font-style="normal" text-anchor="middle" dominant-baseline="central" fill="#111" stroke="#111" stroke-width="0.35" transform="translate(430.50,590.40) rotate(20)">(m)</text>
<text x="0" y="0" font-size="9.2" font-weight="bold" font-style="normal" text-anchor="middle" dominant-baseline="central" fill="#111" transform="translate(568.50,594.50) rotate(-40)">X</text>
<text x="0" y="0" font-size="9.6" font-weight="normal" font-style="normal" text-anchor="middle" dominant-baseline="central" fill="#111" stroke="#111" stroke-width="0.35" transform="translate(581.50,584.50) rotate(-40)">(m)</text>
<rect x="236.2" y="140.3" width="55.5" height="159.89999999999998" fill="#fff" stroke="#8c8c8c" stroke-width="1"/>
<text x="263.00" y="150.80" font-size="8.9" font-weight="bold" text-anchor="middle" fill="#111" >Vel.(m/s)</text>
<defs><linearGradient id="cb1" x1="0" y1="0" x2="0" y2="1"><stop offset="0.000" stop-color="#b2182b"/><stop offset="0.025" stop-color="#b92632"/><stop offset="0.050" stop-color="#c03539"/><stop offset="0.075" stop-color="#c8433f"/><stop offset="0.100" stop-color="#cf5246"/><stop offset="0.125" stop-color="#d6604d"/><stop offset="0.150" stop-color="#dc6e58"/><stop offset="0.175" stop-color="#e27c62"/><stop offset="0.200" stop-color="#e8896d"/><stop offset="0.225" stop-color="#ee9777"/><stop offset="0.250" stop-color="#f4a582"/><stop offset="0.275" stop-color="#f6b090"/><stop offset="0.300" stop-color="#f8bb9e"/><stop offset="0.325" stop-color="#f9c5ab"/><stop offset="0.350" stop-color="#fbd0b9"/><stop offset="0.375" stop-color="#fddbc7"/><stop offset="0.400" stop-color="#fce1d1"/><stop offset="0.425" stop-color="#fbe6da"/><stop offset="0.450" stop-color="#f9ece4"/><stop offset="0.475" stop-color="#f8f1ed"/><stop offset="0.500" stop-color="#f7f7f7"/><stop offset="0.525" stop-color="#eff3f6"/><stop offset="0.550" stop-color="#e8f0f4"/><stop offset="0.575" stop-color="#e0ecf3"/><stop offset="0.600" stop-color="#d9e9f1"/><stop offset="0.625" stop-color="#d1e5f0"/><stop offset="0.650" stop-color="#c4dfec"/><stop offset="0.675" stop-color="#b8d8e9"/><stop offset="0.700" stop-color="#abd2e5"/><stop offset="0.725" stop-color="#9fcbe2"/><stop offset="0.750" stop-color="#92c5de"/><stop offset="0.775" stop-color="#82bbd9"/><stop offset="0.800" stop-color="#72b1d3"/><stop offset="0.825" stop-color="#63a7ce"/><stop offset="0.850" stop-color="#539dc8"/><stop offset="0.875" stop-color="#4393c3"/><stop offset="0.900" stop-color="#3c8abe"/><stop offset="0.925" stop-color="#3581ba"/><stop offset="0.950" stop-color="#2f78b5"/><stop offset="0.975" stop-color="#286fb1"/><stop offset="1.000" stop-color="#2166ac"/></linearGradient></defs>
<rect x="239" y="157.1" width="13.800000000000011" height="131.50000000000003" fill="url(#cb1)"/>
<text x="265.34 272.06 276.44 281.99" y="166.57" font-size="8.4" font-weight="normal" fill="#111" stroke="#111" stroke-width="0.24" style="font-family:Liberation Sans">0.60</text>
<line x1="239.00" y1="174.53" x2="252.80" y2="174.53" stroke="#000" stroke-width="0.7" opacity="0.22"/>
<text x="265.34 272.06 276.44 281.99" y="177.50" font-size="8.4" font-weight="normal" fill="#111" stroke="#111" stroke-width="0.24" style="font-family:Liberation Sans">0.55</text>
<line x1="239.00" y1="185.46" x2="252.80" y2="185.46" stroke="#000" stroke-width="0.7" opacity="0.22"/>
<text x="265.34 272.06 276.44 281.99" y="188.43" font-size="8.4" font-weight="normal" fill="#111" stroke="#111" stroke-width="0.24" style="font-family:Liberation Sans">0.50</text>
<line x1="239.00" y1="196.39" x2="252.80" y2="196.39" stroke="#000" stroke-width="0.7" opacity="0.22"/>
<text x="265.34 272.06 276.44 281.99" y="199.36" font-size="8.4" font-weight="normal" fill="#111" stroke="#111" stroke-width="0.24" style="font-family:Liberation Sans">0.45</text>
<line x1="239.00" y1="207.32" x2="252.80" y2="207.32" stroke="#000" stroke-width="0.7" opacity="0.22"/>
<text x="265.34 272.06 276.44 281.99" y="210.29" font-size="8.4" font-weight="normal" fill="#111" stroke="#111" stroke-width="0.24" style="font-family:Liberation Sans">0.40</text>
<line x1="239.00" y1="218.25" x2="252.80" y2="218.25" stroke="#000" stroke-width="0.7" opacity="0.22"/>
<text x="265.34 272.06 276.44 281.99" y="221.22" font-size="8.4" font-weight="normal" fill="#111" stroke="#111" stroke-width="0.24" style="font-family:Liberation Sans">0.35</text>
<line x1="239.00" y1="229.18" x2="252.80" y2="229.18" stroke="#000" stroke-width="0.7" opacity="0.22"/>
<text x="265.34 272.06 276.44 281.99" y="232.15" font-size="8.4" font-weight="normal" fill="#111" stroke="#111" stroke-width="0.24" style="font-family:Liberation Sans">0.30</text>
<line x1="239.00" y1="240.11" x2="252.80" y2="240.11" stroke="#000" stroke-width="0.7" opacity="0.22"/>
<text x="265.34 272.06 276.44 281.99" y="243.08" font-size="8.4" font-weight="normal" fill="#111" stroke="#111" stroke-width="0.24" style="font-family:Liberation Sans">0.25</text>
<line x1="239.00" y1="251.04" x2="252.80" y2="251.04" stroke="#000" stroke-width="0.7" opacity="0.22"/>
<text x="265.34 272.06 276.44 281.99" y="254.01" font-size="8.4" font-weight="normal" fill="#111" stroke="#111" stroke-width="0.24" style="font-family:Liberation Sans">0.20</text>
<line x1="239.00" y1="261.97" x2="252.80" y2="261.97" stroke="#000" stroke-width="0.7" opacity="0.22"/>
<text x="265.34 272.06 276.44 281.99" y="264.94" font-size="8.4" font-weight="normal" fill="#111" stroke="#111" stroke-width="0.24" style="font-family:Liberation Sans">0.15</text>
<line x1="239.00" y1="272.90" x2="252.80" y2="272.90" stroke="#000" stroke-width="0.7" opacity="0.22"/>
<text x="265.34 272.06 276.44 281.99" y="275.87" font-size="8.4" font-weight="normal" fill="#111" stroke="#111" stroke-width="0.24" style="font-family:Liberation Sans">0.10</text>
<line x1="239.00" y1="283.83" x2="252.80" y2="283.83" stroke="#000" stroke-width="0.7" opacity="0.22"/>
<text x="265.34 272.06 276.44 281.99" y="286.80" font-size="8.4" font-weight="normal" fill="#111" stroke="#111" stroke-width="0.24" style="font-family:Liberation Sans">0.05</text>
<rect x="231.1" y="450.3" width="60.599999999999994" height="154.99999999999994" fill="#fff" stroke="#8c8c8c" stroke-width="1"/>
<text x="260.20" y="463.20" font-size="8.9" font-weight="bold" text-anchor="middle" fill="#111" >Vel.(m/s)</text>
<defs><linearGradient id="cb2" x1="0" y1="0" x2="0" y2="1"><stop offset="0.000" stop-color="#b2182b"/><stop offset="0.025" stop-color="#b92632"/><stop offset="0.050" stop-color="#c03539"/><stop offset="0.075" stop-color="#c8433f"/><stop offset="0.100" stop-color="#cf5246"/><stop offset="0.125" stop-color="#d6604d"/><stop offset="0.150" stop-color="#dc6e58"/><stop offset="0.175" stop-color="#e27c62"/><stop offset="0.200" stop-color="#e8896d"/><stop offset="0.225" stop-color="#ee9777"/><stop offset="0.250" stop-color="#f4a582"/><stop offset="0.275" stop-color="#f6b090"/><stop offset="0.300" stop-color="#f8bb9e"/><stop offset="0.325" stop-color="#f9c5ab"/><stop offset="0.350" stop-color="#fbd0b9"/><stop offset="0.375" stop-color="#fddbc7"/><stop offset="0.400" stop-color="#fce1d1"/><stop offset="0.425" stop-color="#fbe6da"/><stop offset="0.450" stop-color="#f9ece4"/><stop offset="0.475" stop-color="#f8f1ed"/><stop offset="0.500" stop-color="#f7f7f7"/><stop offset="0.525" stop-color="#eff3f6"/><stop offset="0.550" stop-color="#e8f0f4"/><stop offset="0.575" stop-color="#e0ecf3"/><stop offset="0.600" stop-color="#d9e9f1"/><stop offset="0.625" stop-color="#d1e5f0"/><stop offset="0.650" stop-color="#c4dfec"/><stop offset="0.675" stop-color="#b8d8e9"/><stop offset="0.700" stop-color="#abd2e5"/><stop offset="0.725" stop-color="#9fcbe2"/><stop offset="0.750" stop-color="#92c5de"/><stop offset="0.775" stop-color="#82bbd9"/><stop offset="0.800" stop-color="#72b1d3"/><stop offset="0.825" stop-color="#63a7ce"/><stop offset="0.850" stop-color="#539dc8"/><stop offset="0.875" stop-color="#4393c3"/><stop offset="0.900" stop-color="#3c8abe"/><stop offset="0.925" stop-color="#3581ba"/><stop offset="0.950" stop-color="#2f78b5"/><stop offset="0.975" stop-color="#286fb1"/><stop offset="1.000" stop-color="#2166ac"/></linearGradient></defs>
<rect x="236.1" y="469.7" width="13.900000000000006" height="120.30000000000001" fill="url(#cb2)"/>
<text x="257.34 264.06 268.44 273.99" y="479.07" font-size="8.4" font-weight="normal" fill="#111" stroke="#111" stroke-width="0.24" style="font-family:Liberation Sans">0.55</text>
<line x1="236.10" y1="487.02" x2="250.00" y2="487.02" stroke="#000" stroke-width="0.7" opacity="0.22"/>
<text x="257.34 264.06 268.44" y="489.99" font-size="8.4" font-weight="normal" fill="#111" stroke="#111" stroke-width="0.24" style="font-family:Liberation Sans">0.5</text>
<line x1="236.10" y1="497.94" x2="250.00" y2="497.94" stroke="#000" stroke-width="0.7" opacity="0.22"/>
<text x="257.34 264.06 268.44 273.99" y="500.91" font-size="8.4" font-weight="normal" fill="#111" stroke="#111" stroke-width="0.24" style="font-family:Liberation Sans">0.45</text>
<line x1="236.10" y1="508.86" x2="250.00" y2="508.86" stroke="#000" stroke-width="0.7" opacity="0.22"/>
<text x="257.34 264.06 268.44" y="511.83" font-size="8.4" font-weight="normal" fill="#111" stroke="#111" stroke-width="0.24" style="font-family:Liberation Sans">0.4</text>
<line x1="236.10" y1="519.78" x2="250.00" y2="519.78" stroke="#000" stroke-width="0.7" opacity="0.22"/>
<text x="257.34 264.06 268.44 273.99" y="522.75" font-size="8.4" font-weight="normal" fill="#111" stroke="#111" stroke-width="0.24" style="font-family:Liberation Sans">0.35</text>
<line x1="236.10" y1="530.70" x2="250.00" y2="530.70" stroke="#000" stroke-width="0.7" opacity="0.22"/>
<text x="257.34 264.06 268.44" y="533.67" font-size="8.4" font-weight="normal" fill="#111" stroke="#111" stroke-width="0.24" style="font-family:Liberation Sans">0.3</text>
<line x1="236.10" y1="541.62" x2="250.00" y2="541.62" stroke="#000" stroke-width="0.7" opacity="0.22"/>
<text x="257.34 264.06 268.44 273.99" y="544.59" font-size="8.4" font-weight="normal" fill="#111" stroke="#111" stroke-width="0.24" style="font-family:Liberation Sans">0.25</text>
<line x1="236.10" y1="552.54" x2="250.00" y2="552.54" stroke="#000" stroke-width="0.7" opacity="0.22"/>
<text x="257.34 264.06 268.44" y="555.51" font-size="8.4" font-weight="normal" fill="#111" stroke="#111" stroke-width="0.24" style="font-family:Liberation Sans">0.2</text>
<line x1="236.10" y1="563.46" x2="250.00" y2="563.46" stroke="#000" stroke-width="0.7" opacity="0.22"/>
<text x="257.34 264.06 268.44 273.99" y="566.43" font-size="8.4" font-weight="normal" fill="#111" stroke="#111" stroke-width="0.24" style="font-family:Liberation Sans">0.15</text>
<line x1="236.10" y1="574.38" x2="250.00" y2="574.38" stroke="#000" stroke-width="0.7" opacity="0.22"/>
<text x="257.34 264.06 268.44" y="577.35" font-size="8.4" font-weight="normal" fill="#111" stroke="#111" stroke-width="0.24" style="font-family:Liberation Sans">0.1</text>
<line x1="236.10" y1="585.30" x2="250.00" y2="585.30" stroke="#000" stroke-width="0.7" opacity="0.22"/>
<text x="257.34 264.06 268.44 273.99" y="588.27" font-size="8.4" font-weight="normal" fill="#111" stroke="#111" stroke-width="0.24" style="font-family:Liberation Sans">0.05</text>
<rect x="590.5" y="170.1" width="88.10000000000002" height="199.70000000000002" fill="#fff" stroke="#8c8c8c" stroke-width="1"/>
<text x="633.20" y="187.71" font-size="11.7" font-weight="bold" text-anchor="middle" fill="#111" >Vel. (m/s)</text>
<defs><linearGradient id="cb3" x1="0" y1="0" x2="0" y2="1"><stop offset="0.000" stop-color="#b2182b"/><stop offset="0.025" stop-color="#b92632"/><stop offset="0.050" stop-color="#c03539"/><stop offset="0.075" stop-color="#c8433f"/><stop offset="0.100" stop-color="#cf5246"/><stop offset="0.125" stop-color="#d6604d"/><stop offset="0.150" stop-color="#dc6e58"/><stop offset="0.175" stop-color="#e27c62"/><stop offset="0.200" stop-color="#e8896d"/><stop offset="0.225" stop-color="#ee9777"/><stop offset="0.250" stop-color="#f4a582"/><stop offset="0.275" stop-color="#f6b090"/><stop offset="0.300" stop-color="#f8bb9e"/><stop offset="0.325" stop-color="#f9c5ab"/><stop offset="0.350" stop-color="#fbd0b9"/><stop offset="0.375" stop-color="#fddbc7"/><stop offset="0.400" stop-color="#fce1d1"/><stop offset="0.425" stop-color="#fbe6da"/><stop offset="0.450" stop-color="#f9ece4"/><stop offset="0.475" stop-color="#f8f1ed"/><stop offset="0.500" stop-color="#f7f7f7"/><stop offset="0.525" stop-color="#eff3f6"/><stop offset="0.550" stop-color="#e8f0f4"/><stop offset="0.575" stop-color="#e0ecf3"/><stop offset="0.600" stop-color="#d9e9f1"/><stop offset="0.625" stop-color="#d1e5f0"/><stop offset="0.650" stop-color="#c4dfec"/><stop offset="0.675" stop-color="#b8d8e9"/><stop offset="0.700" stop-color="#abd2e5"/><stop offset="0.725" stop-color="#9fcbe2"/><stop offset="0.750" stop-color="#92c5de"/><stop offset="0.775" stop-color="#82bbd9"/><stop offset="0.800" stop-color="#72b1d3"/><stop offset="0.825" stop-color="#63a7ce"/><stop offset="0.850" stop-color="#539dc8"/><stop offset="0.875" stop-color="#4393c3"/><stop offset="0.900" stop-color="#3c8abe"/><stop offset="0.925" stop-color="#3581ba"/><stop offset="0.950" stop-color="#2f78b5"/><stop offset="0.975" stop-color="#286fb1"/><stop offset="1.000" stop-color="#2166ac"/></linearGradient></defs>
<rect x="598" y="196.1" width="18" height="145.29999999999998" fill="url(#cb3)"/>
<text x="625.67 634.65 640.57" y="208.29" font-size="11" font-weight="normal" fill="#111" stroke="#111" stroke-width="0.24" style="font-family:Liberation Sans">0.5</text>
<line x1="598.00" y1="219.06" x2="616.00" y2="219.06" stroke="#000" stroke-width="0.7" opacity="0.22"/>
<text x="625.67 634.65 640.57 648.02" y="222.95" font-size="11" font-weight="normal" fill="#111" stroke="#111" stroke-width="0.24" style="font-family:Liberation Sans">0.45</text>
<line x1="598.00" y1="233.72" x2="616.00" y2="233.72" stroke="#000" stroke-width="0.7" opacity="0.22"/>
<text x="625.67 634.65 640.57" y="237.61" font-size="11" font-weight="normal" fill="#111" stroke="#111" stroke-width="0.24" style="font-family:Liberation Sans">0.4</text>
<line x1="598.00" y1="248.38" x2="616.00" y2="248.38" stroke="#000" stroke-width="0.7" opacity="0.22"/>
<text x="625.67 634.65 640.57 648.02" y="252.27" font-size="11" font-weight="normal" fill="#111" stroke="#111" stroke-width="0.24" style="font-family:Liberation Sans">0.35</text>
<line x1="598.00" y1="263.04" x2="616.00" y2="263.04" stroke="#000" stroke-width="0.7" opacity="0.22"/>
<text x="625.67 634.65 640.57" y="266.93" font-size="11" font-weight="normal" fill="#111" stroke="#111" stroke-width="0.24" style="font-family:Liberation Sans">0.3</text>
<line x1="598.00" y1="277.70" x2="616.00" y2="277.70" stroke="#000" stroke-width="0.7" opacity="0.22"/>
<text x="625.67 634.65 640.57 648.02" y="281.59" font-size="11" font-weight="normal" fill="#111" stroke="#111" stroke-width="0.24" style="font-family:Liberation Sans">0.25</text>
<line x1="598.00" y1="292.36" x2="616.00" y2="292.36" stroke="#000" stroke-width="0.7" opacity="0.22"/>
<text x="625.67 634.65 640.57" y="296.25" font-size="11" font-weight="normal" fill="#111" stroke="#111" stroke-width="0.24" style="font-family:Liberation Sans">0.2</text>
<line x1="598.00" y1="307.02" x2="616.00" y2="307.02" stroke="#000" stroke-width="0.7" opacity="0.22"/>
<text x="625.67 634.65 640.57 648.02" y="310.91" font-size="11" font-weight="normal" fill="#111" stroke="#111" stroke-width="0.24" style="font-family:Liberation Sans">0.15</text>
<line x1="598.00" y1="321.68" x2="616.00" y2="321.68" stroke="#000" stroke-width="0.7" opacity="0.22"/>
<text x="625.67 634.65 640.57" y="325.57" font-size="11" font-weight="normal" fill="#111" stroke="#111" stroke-width="0.24" style="font-family:Liberation Sans">0.1</text>
<line x1="598.00" y1="336.34" x2="616.00" y2="336.34" stroke="#000" stroke-width="0.7" opacity="0.22"/>
<text x="625.67 634.65 640.57 648.02" y="340.23" font-size="11" font-weight="normal" fill="#111" stroke="#111" stroke-width="0.24" style="font-family:Liberation Sans">0.05</text>
<defs>
<radialGradient id="sacG" cx="0.5" cy="0.6" r="0.6"><stop offset="0" stop-color="#f4f4f4"/><stop offset="0.6" stop-color="#e2e2e2"/><stop offset="1" stop-color="#c8c8c8"/></radialGradient>
<radialGradient id="eggG" cx="0.45" cy="0.55" r="0.7"><stop offset="0" stop-color="#f4f4f4"/><stop offset="0.55" stop-color="#e6e6e6"/><stop offset="1" stop-color="#cbcbcb"/></radialGradient>
</defs>
<svg x="194.5" y="2.5" width="137" height="136" viewBox="194.5 2.5 137 136" overflow="hidden">
<path d="M248.20,50.30 C250.22,47.35 250.48,47.97 254.10,47.30 C257.72,46.63 265.63,46.47 269.90,46.30 C274.17,46.13 277.07,45.48 279.70,46.30 C282.33,47.12 284.55,49.23 285.70,51.20 C286.85,53.17 287.27,55.47 286.60,58.10 C285.93,60.73 286.13,64.68 281.70,67.00 C277.27,69.32 266.62,72.33 260.00,72.00 C253.38,71.67 243.97,68.62 242.00,65.00 C240.03,61.38 246.18,53.25 248.20,50.30Z" fill="url(#sacG)"/>
<clipPath id="vc1"><path d="M210.40,27.60 C208.57,29.44 212.01,37.04 211.80,39.40 C211.59,41.76 209.60,43.59 208.80,45.30 C208.00,47.01 205.80,50.36 205.80,52.20 C205.80,54.04 207.61,56.86 208.80,59.10 C209.99,61.34 212.86,66.76 214.70,69.00 C216.54,71.24 219.97,74.59 222.60,75.90 C225.23,77.21 231.51,77.88 234.40,78.80 C237.29,79.72 242.57,81.11 244.30,82.80 C246.03,84.49 247.47,88.73 247.40,91.50 C247.33,94.27 244.37,100.39 243.80,103.60 C243.23,106.81 242.94,110.75 243.10,115.60 C243.26,120.45 242.33,136.75 245.00,140.00 C247.67,143.25 260.46,143.25 263.10,140.00 C265.74,136.75 264.48,120.45 264.80,115.60 C265.12,110.75 265.73,106.81 265.50,103.60 C265.27,100.39 262.77,93.98 263.10,91.50 C263.43,89.02 265.75,86.33 268.00,85.00 C270.25,83.67 276.80,82.17 280.00,81.50 C283.20,80.83 289.33,80.53 292.00,80.00 C294.67,79.47 298.13,78.30 300.00,77.50 C301.87,76.70 304.63,75.27 306.00,74.00 C307.37,72.73 309.34,69.99 310.30,68.00 C311.26,66.01 313.07,61.34 313.20,59.10 C313.33,56.86 312.87,53.56 311.30,51.20 C309.73,48.84 304.81,44.28 301.40,41.40 C297.99,38.52 289.63,33.01 285.70,29.60 C281.77,26.19 274.93,18.96 271.90,15.80 C268.87,12.64 265.12,7.07 263.00,5.90 C260.88,4.73 257.44,6.08 256.00,7.00 C254.56,7.92 251.40,10.59 252.20,12.80 C253.00,15.01 258.59,20.44 262.00,23.60 C265.41,26.76 273.85,33.34 277.80,36.50 C281.75,39.66 288.71,44.81 291.60,47.30 C294.49,49.79 298.58,53.36 299.50,55.20 C300.42,57.04 299.82,59.53 298.50,61.10 C297.18,62.67 291.84,65.81 289.60,67.00 C287.36,68.19 284.31,69.87 281.70,70.00 C279.09,70.13 275.39,68.93 270.00,68.00 C264.61,67.07 246.05,63.71 241.30,63.00 C236.55,62.29 236.24,63.35 234.40,62.70 C232.56,62.05 228.69,59.37 227.50,58.10 C226.31,56.83 225.77,57.53 225.50,53.20 C225.23,48.87 227.51,29.01 225.50,25.60 C223.49,22.19 212.23,25.76 210.40,27.60Z"/></clipPath>
<path d="M210.40,27.60 C208.57,29.44 212.01,37.04 211.80,39.40 C211.59,41.76 209.60,43.59 208.80,45.30 C208.00,47.01 205.80,50.36 205.80,52.20 C205.80,54.04 207.61,56.86 208.80,59.10 C209.99,61.34 212.86,66.76 214.70,69.00 C216.54,71.24 219.97,74.59 222.60,75.90 C225.23,77.21 231.51,77.88 234.40,78.80 C237.29,79.72 242.57,81.11 244.30,82.80 C246.03,84.49 247.47,88.73 247.40,91.50 C247.33,94.27 244.37,100.39 243.80,103.60 C243.23,106.81 242.94,110.75 243.10,115.60 C243.26,120.45 242.33,136.75 245.00,140.00 C247.67,143.25 260.46,143.25 263.10,140.00 C265.74,136.75 264.48,120.45 264.80,115.60 C265.12,110.75 265.73,106.81 265.50,103.60 C265.27,100.39 262.77,93.98 263.10,91.50 C263.43,89.02 265.75,86.33 268.00,85.00 C270.25,83.67 276.80,82.17 280.00,81.50 C283.20,80.83 289.33,80.53 292.00,80.00 C294.67,79.47 298.13,78.30 300.00,77.50 C301.87,76.70 304.63,75.27 306.00,74.00 C307.37,72.73 309.34,69.99 310.30,68.00 C311.26,66.01 313.07,61.34 313.20,59.10 C313.33,56.86 312.87,53.56 311.30,51.20 C309.73,48.84 304.81,44.28 301.40,41.40 C297.99,38.52 289.63,33.01 285.70,29.60 C281.77,26.19 274.93,18.96 271.90,15.80 C268.87,12.64 265.12,7.07 263.00,5.90 C260.88,4.73 257.44,6.08 256.00,7.00 C254.56,7.92 251.40,10.59 252.20,12.80 C253.00,15.01 258.59,20.44 262.00,23.60 C265.41,26.76 273.85,33.34 277.80,36.50 C281.75,39.66 288.71,44.81 291.60,47.30 C294.49,49.79 298.58,53.36 299.50,55.20 C300.42,57.04 299.82,59.53 298.50,61.10 C297.18,62.67 291.84,65.81 289.60,67.00 C287.36,68.19 284.31,69.87 281.70,70.00 C279.09,70.13 275.39,68.93 270.00,68.00 C264.61,67.07 246.05,63.71 241.30,63.00 C236.55,62.29 236.24,63.35 234.40,62.70 C232.56,62.05 228.69,59.37 227.50,58.10 C226.31,56.83 225.77,57.53 225.50,53.20 C225.23,48.87 227.51,29.01 225.50,25.60 C223.49,22.19 212.23,25.76 210.40,27.60Z" fill="#b6b6b6"/>
<g clip-path="url(#vc1)">
<path d="M218,30 L218,46 L217,58 L226,68 L242,74 L262,78 L285,76 L300,70 L306,60 L301,48 L288,37 L272,24 L258,12" fill="none" stroke="#f4f4f4" stroke-width="4.5" stroke-linecap="round" stroke-linejoin="round" opacity="0.85" filter="url(#bl2)"/>
<path d="M256,88 L255,100 L254,118 L255,140" fill="none" stroke="#f4f4f4" stroke-width="4.5" stroke-linecap="round" stroke-linejoin="round" opacity="0.85" filter="url(#bl2)"/>
<path d="M232,76 L240,78" fill="none" stroke="#ffffff" stroke-width="5" stroke-linecap="round" stroke-linejoin="round" opacity="0.9" filter="url(#bl2)"/>
<path d="M290,77 L298,75" fill="none" stroke="#ffffff" stroke-width="5" stroke-linecap="round" stroke-linejoin="round" opacity="0.9" filter="url(#bl2)"/>
<path d="M254,106 L254,112" fill="none" stroke="#ffffff" stroke-width="4" stroke-linecap="round" stroke-linejoin="round" opacity="0.9" filter="url(#bl2)"/>
<path d="M210.40,27.60 C208.57,29.44 212.01,37.04 211.80,39.40 C211.59,41.76 209.60,43.59 208.80,45.30 C208.00,47.01 205.80,50.36 205.80,52.20 C205.80,54.04 207.61,56.86 208.80,59.10 C209.99,61.34 212.86,66.76 214.70,69.00 C216.54,71.24 219.97,74.59 222.60,75.90 C225.23,77.21 231.51,77.88 234.40,78.80 C237.29,79.72 242.57,81.11 244.30,82.80 C246.03,84.49 247.47,88.73 247.40,91.50 C247.33,94.27 244.37,100.39 243.80,103.60 C243.23,106.81 242.94,110.75 243.10,115.60 C243.26,120.45 242.33,136.75 245.00,140.00 C247.67,143.25 260.46,143.25 263.10,140.00 C265.74,136.75 264.48,120.45 264.80,115.60 C265.12,110.75 265.73,106.81 265.50,103.60 C265.27,100.39 262.77,93.98 263.10,91.50 C263.43,89.02 265.75,86.33 268.00,85.00 C270.25,83.67 276.80,82.17 280.00,81.50 C283.20,80.83 289.33,80.53 292.00,80.00 C294.67,79.47 298.13,78.30 300.00,77.50 C301.87,76.70 304.63,75.27 306.00,74.00 C307.37,72.73 309.34,69.99 310.30,68.00 C311.26,66.01 313.07,61.34 313.20,59.10 C313.33,56.86 312.87,53.56 311.30,51.20 C309.73,48.84 304.81,44.28 301.40,41.40 C297.99,38.52 289.63,33.01 285.70,29.60 C281.77,26.19 274.93,18.96 271.90,15.80 C268.87,12.64 265.12,7.07 263.00,5.90 C260.88,4.73 257.44,6.08 256.00,7.00 C254.56,7.92 251.40,10.59 252.20,12.80 C253.00,15.01 258.59,20.44 262.00,23.60 C265.41,26.76 273.85,33.34 277.80,36.50 C281.75,39.66 288.71,44.81 291.60,47.30 C294.49,49.79 298.58,53.36 299.50,55.20 C300.42,57.04 299.82,59.53 298.50,61.10 C297.18,62.67 291.84,65.81 289.60,67.00 C287.36,68.19 284.31,69.87 281.70,70.00 C279.09,70.13 275.39,68.93 270.00,68.00 C264.61,67.07 246.05,63.71 241.30,63.00 C236.55,62.29 236.24,63.35 234.40,62.70 C232.56,62.05 228.69,59.37 227.50,58.10 C226.31,56.83 225.77,57.53 225.50,53.20 C225.23,48.87 227.51,29.01 225.50,25.60 C223.49,22.19 212.23,25.76 210.40,27.60Z" fill="none" stroke="#6e6e6e" stroke-width="2.2" filter="url(#bl1)" opacity="0.8"/>
</g>
<path d="M240.3,62.2 C246,58.5 262,58.3 272,61.2 C277,62.8 281,66.5 280.5,69.8 C279.5,72.5 274,74.2 266,75.1 C257,76 249,73.5 244.5,69.5 C241.5,66.8 239.5,64 240.3,62.2Z" fill="#ececec" stroke="#111" stroke-width="1.2"/>
<ellipse cx="217.8" cy="27.4" rx="7.6" ry="4.6" transform="rotate(-8 217.8 27.4)" fill="#bdbdbd" stroke="#8e8e8e" stroke-width="0.6"/>
<ellipse cx="258" cy="10.6" rx="6.6" ry="4.2" transform="rotate(-35 258 10.6)" fill="#c4c4c4" stroke="#8e8e8e" stroke-width="0.6"/>
<g stroke="#444" stroke-width="0.6" fill="none"><line x1="203.3" y1="99" x2="203.3" y2="112"/><line x1="207.8" y1="100" x2="205.5" y2="110"/><line x1="210" y1="119.5" x2="229.5" y2="123.8"/></g>
<path d="M202.5,111.5 l5,-2 l4,1.5 l0,6 l-5,2.5 l-4,-2z" fill="#d4d4d4" stroke="#666" stroke-width="0.5"/><path d="M202.5,117.5 l4,2 l5,-2.5 l0,2.5 l-5,2 l-4,-1.5z" fill="#8a8a8a"/>
<text x="201.00" y="99.00" font-size="6.5" font-weight="normal" text-anchor="middle" fill="#111" style="font-family:Liberation Sans" >Y</text>
<text x="207.80" y="99.00" font-size="6.5" font-weight="normal" text-anchor="middle" fill="#111" style="font-family:Liberation Sans" >X</text>
<text x="234.50" y="127.50" font-size="6.5" font-weight="normal" text-anchor="middle" fill="#111" style="font-family:Liberation Sans" >Z</text>
</svg>
<line x1="193.90" y1="2.50" x2="330.90" y2="2.50" stroke="#cfcfcf" stroke-width="1" />
<line x1="193.90" y1="2.50" x2="193.90" y2="138.50" stroke="#cfcfcf" stroke-width="1" />
<line x1="330.90" y1="2.50" x2="330.90" y2="138.50" stroke="#cfcfcf" stroke-width="1" />
<svg x="194.5" y="308" width="137" height="137" viewBox="194.5 308 137 137" overflow="hidden">
<path d="M226.00,363.10 C225.92,359.30 228.72,357.48 232.00,356.00 C235.28,354.52 240.35,354.40 245.70,354.20 C251.05,354.00 257.53,353.42 264.10,354.80 C270.67,356.18 279.98,358.93 285.10,362.50 C290.22,366.07 293.92,371.73 294.80,376.20 C295.68,380.67 294.53,387.50 290.40,389.30 C286.27,391.10 276.73,387.72 270.00,387.00 C263.27,386.28 256.25,386.37 250.00,385.00 C243.75,383.63 236.50,382.45 232.50,378.80 C228.50,375.15 226.08,366.90 226.00,363.10Z" fill="url(#sacG)"/>
<clipPath id="vc2"><path d="M205.50,318.40 C204.35,321.20 209.17,333.80 210.50,339.40 C211.83,345.00 214.17,355.49 215.50,360.40 C216.83,365.31 218.37,372.21 220.50,376.20 C222.63,380.19 227.93,387.02 231.50,390.30 C235.07,393.58 243.97,398.69 247.30,400.80 C250.63,402.91 255.03,404.13 256.50,406.10 C257.97,408.07 257.86,410.28 258.30,415.60 C258.74,420.92 257.91,441.95 259.80,446.00 C261.69,450.05 270.93,449.71 272.50,446.00 C274.07,442.29 271.53,423.93 271.60,418.20 C271.67,412.47 271.61,405.96 273.00,403.00 C274.39,400.04 279.68,397.40 282.00,396.00 C284.32,394.60 292.00,393.43 290.40,392.50 C288.80,391.57 275.13,389.67 270.00,389.00 C264.87,388.33 255.71,388.37 251.90,387.50 C248.09,386.63 244.31,384.43 241.40,382.50 C238.49,380.57 232.23,375.72 230.10,373.00 C227.97,370.28 226.56,366.58 225.40,362.10 C224.24,357.62 222.24,345.23 221.40,339.40 C220.56,333.57 221.22,321.20 219.10,318.40 C216.98,315.60 206.65,315.60 205.50,318.40Z"/></clipPath>
<path d="M205.50,318.40 C204.35,321.20 209.17,333.80 210.50,339.40 C211.83,345.00 214.17,355.49 215.50,360.40 C216.83,365.31 218.37,372.21 220.50,376.20 C222.63,380.19 227.93,387.02 231.50,390.30 C235.07,393.58 243.97,398.69 247.30,400.80 C250.63,402.91 255.03,404.13 256.50,406.10 C257.97,408.07 257.86,410.28 258.30,415.60 C258.74,420.92 257.91,441.95 259.80,446.00 C261.69,450.05 270.93,449.71 272.50,446.00 C274.07,442.29 271.53,423.93 271.60,418.20 C271.67,412.47 271.61,405.96 273.00,403.00 C274.39,400.04 279.68,397.40 282.00,396.00 C284.32,394.60 292.00,393.43 290.40,392.50 C288.80,391.57 275.13,389.67 270.00,389.00 C264.87,388.33 255.71,388.37 251.90,387.50 C248.09,386.63 244.31,384.43 241.40,382.50 C238.49,380.57 232.23,375.72 230.10,373.00 C227.97,370.28 226.56,366.58 225.40,362.10 C224.24,357.62 222.24,345.23 221.40,339.40 C220.56,333.57 221.22,321.20 219.10,318.40 C216.98,315.60 206.65,315.60 205.50,318.40Z" fill="#bebebe"/>
<g clip-path="url(#vc2)">
<path d="M212.5,320 L215.5,340 L220.5,362 L228.5,378 L245,392 L258,401 L265.5,412 L266,446" fill="none" stroke="#ffffff" stroke-width="3.2" stroke-linecap="round" stroke-linejoin="round" opacity="0.95" filter="url(#bl2)"/>
<path d="M205.50,318.40 C204.35,321.20 209.17,333.80 210.50,339.40 C211.83,345.00 214.17,355.49 215.50,360.40 C216.83,365.31 218.37,372.21 220.50,376.20 C222.63,380.19 227.93,387.02 231.50,390.30 C235.07,393.58 243.97,398.69 247.30,400.80 C250.63,402.91 255.03,404.13 256.50,406.10 C257.97,408.07 257.86,410.28 258.30,415.60 C258.74,420.92 257.91,441.95 259.80,446.00 C261.69,450.05 270.93,449.71 272.50,446.00 C274.07,442.29 271.53,423.93 271.60,418.20 C271.67,412.47 271.61,405.96 273.00,403.00 C274.39,400.04 279.68,397.40 282.00,396.00 C284.32,394.60 292.00,393.43 290.40,392.50 C288.80,391.57 275.13,389.67 270.00,389.00 C264.87,388.33 255.71,388.37 251.90,387.50 C248.09,386.63 244.31,384.43 241.40,382.50 C238.49,380.57 232.23,375.72 230.10,373.00 C227.97,370.28 226.56,366.58 225.40,362.10 C224.24,357.62 222.24,345.23 221.40,339.40 C220.56,333.57 221.22,321.20 219.10,318.40 C216.98,315.60 206.65,315.60 205.50,318.40Z" fill="none" stroke="#7a7a7a" stroke-width="1.8" filter="url(#bl1)" opacity="0.8"/>
</g>
<ellipse cx="269.4" cy="388.3" rx="21.2" ry="4.3" transform="rotate(9 269.4 388.3)" fill="#ececec" stroke="#111" stroke-width="1.2"/>
<ellipse cx="212.2" cy="318.4" rx="6" ry="3" transform="rotate(-5 212.2 318.4)" fill="#c4c4c4" stroke="#8e8e8e" stroke-width="0.6"/>
<clipPath id="vc3"><path d="M302.00,447.00 C298.53,445.53 306.13,438.53 308.00,436.00 C309.87,433.47 313.60,429.73 316.00,428.00 C318.40,426.27 323.60,423.93 326.00,423.00 C328.40,422.07 332.93,417.80 334.00,421.00 C335.07,424.20 338.27,443.53 334.00,447.00 C329.73,450.47 305.47,448.47 302.00,447.00Z"/></clipPath>
<path d="M302.00,447.00 C298.53,445.53 306.13,438.53 308.00,436.00 C309.87,433.47 313.60,429.73 316.00,428.00 C318.40,426.27 323.60,423.93 326.00,423.00 C328.40,422.07 332.93,417.80 334.00,421.00 C335.07,424.20 338.27,443.53 334.00,447.00 C329.73,450.47 305.47,448.47 302.00,447.00Z" fill="#b4b4b4"/>
<g clip-path="url(#vc3)">
<path d="M309,447 Q318,434 334,430" fill="none" stroke="#f4f4f4" stroke-width="4" stroke-linecap="round" stroke-linejoin="round" opacity="0.85" filter="url(#bl2)"/>
<path d="M302.00,447.00 C298.53,445.53 306.13,438.53 308.00,436.00 C309.87,433.47 313.60,429.73 316.00,428.00 C318.40,426.27 323.60,423.93 326.00,423.00 C328.40,422.07 332.93,417.80 334.00,421.00 C335.07,424.20 338.27,443.53 334.00,447.00 C329.73,450.47 305.47,448.47 302.00,447.00Z" fill="none" stroke="#6e6e6e" stroke-width="1.6" filter="url(#bl1)" opacity="0.8"/>
</g>
<path d="M313,425 Q315,418 322,417 Q328,417 329,421 Q326,425 318,427Z" fill="#9a9a9a"/>
<g stroke="#444" stroke-width="0.6" fill="none"><line x1="208.5" y1="403.5" x2="226" y2="410.5"/><line x1="226" y1="424" x2="222" y2="436"/><line x1="228" y1="424" x2="227.5" y2="432"/></g>
<path d="M226,410 l6.5,2 l-2.5,11.5 l-6.5,-2z" fill="#d4d4d4" stroke="#666" stroke-width="0.5"/><path d="M223.5,418 l6.5,2 l-0.8,3.8 l-6.5,-2z" fill="#8a8a8a"/>
<text x="203.00" y="404.00" font-size="6.5" font-weight="normal" text-anchor="middle" fill="#111" style="font-family:Liberation Sans" >Y</text>
<text x="222.00" y="441.00" font-size="6.5" font-weight="normal" text-anchor="middle" fill="#111" style="font-family:Liberation Sans" >Z</text>
<text x="229.00" y="437.00" font-size="6.5" font-weight="normal" text-anchor="middle" fill="#111" style="font-family:Liberation Sans" >X</text>
</svg>
<line x1="194.50" y1="308.00" x2="331.50" y2="308.00" stroke="#cfcfcf" stroke-width="1" />
<line x1="194.50" y1="308.00" x2="194.50" y2="445.20" stroke="#cfcfcf" stroke-width="1" />
<line x1="331.50" y1="308.00" x2="331.50" y2="445.20" stroke="#cfcfcf" stroke-width="1" />
<line x1="194.50" y1="445.20" x2="331.50" y2="445.20" stroke="#cfcfcf" stroke-width="1" />
<svg x="365.8" y="30.2" width="306" height="136.8" viewBox="365.8 30.2 306 136.8" overflow="hidden">
<clipPath id="vc4"><path d="M512.00,124.50 C513.67,121.90 521.66,122.19 524.50,121.50 C527.34,120.81 530.57,119.77 533.30,119.30 C536.03,118.83 540.11,117.91 545.00,118.00 C549.89,118.09 564.00,119.13 570.00,120.00 C576.00,120.87 586.00,123.57 590.00,124.50 C594.00,125.43 596.00,125.67 600.00,127.00 C604.00,128.33 612.89,131.27 620.00,134.50 C627.11,137.73 645.83,147.93 653.30,151.20 C660.77,154.47 672.97,156.76 676.00,159.00 C679.03,161.24 679.03,167.47 676.00,168.00 C672.97,168.53 661.41,165.56 653.30,163.00 C645.19,160.44 623.51,152.07 615.20,148.80 C606.89,145.53 595.85,140.47 591.00,138.50 C586.15,136.53 582.76,134.73 578.80,134.00 C574.84,133.27 565.97,132.93 561.30,133.00 C556.63,133.07 548.71,133.83 543.80,134.50 C538.89,135.17 528.74,137.13 524.50,138.00 C520.26,138.87 513.67,142.80 512.00,141.00 C510.33,139.20 510.33,127.10 512.00,124.50Z"/></clipPath>
<path d="M512.00,124.50 C513.67,121.90 521.66,122.19 524.50,121.50 C527.34,120.81 530.57,119.77 533.30,119.30 C536.03,118.83 540.11,117.91 545.00,118.00 C549.89,118.09 564.00,119.13 570.00,120.00 C576.00,120.87 586.00,123.57 590.00,124.50 C594.00,125.43 596.00,125.67 600.00,127.00 C604.00,128.33 612.89,131.27 620.00,134.50 C627.11,137.73 645.83,147.93 653.30,151.20 C660.77,154.47 672.97,156.76 676.00,159.00 C679.03,161.24 679.03,167.47 676.00,168.00 C672.97,168.53 661.41,165.56 653.30,163.00 C645.19,160.44 623.51,152.07 615.20,148.80 C606.89,145.53 595.85,140.47 591.00,138.50 C586.15,136.53 582.76,134.73 578.80,134.00 C574.84,133.27 565.97,132.93 561.30,133.00 C556.63,133.07 548.71,133.83 543.80,134.50 C538.89,135.17 528.74,137.13 524.50,138.00 C520.26,138.87 513.67,142.80 512.00,141.00 C510.33,139.20 510.33,127.10 512.00,124.50Z" fill="#b8b8b8"/>
<g clip-path="url(#vc4)">
<path d="M518,130 L540,126 L575,127 L600,133 L630,146 L676,163" fill="none" stroke="#f6f6f6" stroke-width="3.2" stroke-linecap="round" stroke-linejoin="round" opacity="0.9" filter="url(#bl2)"/>
<path d="M575,129.7 L578,130" fill="none" stroke="#ffffff" stroke-width="4" stroke-linecap="round" stroke-linejoin="round" opacity="0.9" filter="url(#bl2)"/>
<path d="M512.00,124.50 C513.67,121.90 521.66,122.19 524.50,121.50 C527.34,120.81 530.57,119.77 533.30,119.30 C536.03,118.83 540.11,117.91 545.00,118.00 C549.89,118.09 564.00,119.13 570.00,120.00 C576.00,120.87 586.00,123.57 590.00,124.50 C594.00,125.43 596.00,125.67 600.00,127.00 C604.00,128.33 612.89,131.27 620.00,134.50 C627.11,137.73 645.83,147.93 653.30,151.20 C660.77,154.47 672.97,156.76 676.00,159.00 C679.03,161.24 679.03,167.47 676.00,168.00 C672.97,168.53 661.41,165.56 653.30,163.00 C645.19,160.44 623.51,152.07 615.20,148.80 C606.89,145.53 595.85,140.47 591.00,138.50 C586.15,136.53 582.76,134.73 578.80,134.00 C574.84,133.27 565.97,132.93 561.30,133.00 C556.63,133.07 548.71,133.83 543.80,134.50 C538.89,135.17 528.74,137.13 524.50,138.00 C520.26,138.87 513.67,142.80 512.00,141.00 C510.33,139.20 510.33,127.10 512.00,124.50Z" fill="none" stroke="#6e6e6e" stroke-width="1.8" filter="url(#bl1)" opacity="0.8"/>
</g>
<clipPath id="vc5"><path d="M534.20,92.90 C529.53,91.63 533.27,96.52 533.00,98.00 C532.73,99.48 532.28,102.23 532.20,104.00 C532.12,105.77 532.03,109.51 532.40,111.30 C532.77,113.09 533.25,116.17 535.00,117.40 C536.75,118.63 542.43,119.55 545.50,120.50 C548.57,121.45 554.73,123.39 558.00,124.50 C561.27,125.61 566.76,127.88 570.00,128.80 C573.24,129.72 579.02,131.28 582.30,131.40 C585.58,131.52 592.15,130.86 594.60,129.70 C597.05,128.54 599.77,123.75 600.70,122.70 C601.63,121.65 605.96,123.83 601.60,121.80 C597.24,119.77 576.99,111.35 568.00,107.50 C559.01,103.65 538.87,94.17 534.20,92.90Z"/></clipPath>
<path d="M534.20,92.90 C529.53,91.63 533.27,96.52 533.00,98.00 C532.73,99.48 532.28,102.23 532.20,104.00 C532.12,105.77 532.03,109.51 532.40,111.30 C532.77,113.09 533.25,116.17 535.00,117.40 C536.75,118.63 542.43,119.55 545.50,120.50 C548.57,121.45 554.73,123.39 558.00,124.50 C561.27,125.61 566.76,127.88 570.00,128.80 C573.24,129.72 579.02,131.28 582.30,131.40 C585.58,131.52 592.15,130.86 594.60,129.70 C597.05,128.54 599.77,123.75 600.70,122.70 C601.63,121.65 605.96,123.83 601.60,121.80 C597.24,119.77 576.99,111.35 568.00,107.50 C559.01,103.65 538.87,94.17 534.20,92.90Z" fill="#c6c6c6"/>
<g clip-path="url(#vc5)">
<path d="M545,114 L565,121 L592,124" fill="none" stroke="#eeeeee" stroke-width="3" stroke-linecap="round" stroke-linejoin="round" opacity="0.8" filter="url(#bl2)"/>
<path d="M534.20,92.90 C529.53,91.63 533.27,96.52 533.00,98.00 C532.73,99.48 532.28,102.23 532.20,104.00 C532.12,105.77 532.03,109.51 532.40,111.30 C532.77,113.09 533.25,116.17 535.00,117.40 C536.75,118.63 542.43,119.55 545.50,120.50 C548.57,121.45 554.73,123.39 558.00,124.50 C561.27,125.61 566.76,127.88 570.00,128.80 C573.24,129.72 579.02,131.28 582.30,131.40 C585.58,131.52 592.15,130.86 594.60,129.70 C597.05,128.54 599.77,123.75 600.70,122.70 C601.63,121.65 605.96,123.83 601.60,121.80 C597.24,119.77 576.99,111.35 568.00,107.50 C559.01,103.65 538.87,94.17 534.20,92.90Z" fill="none" stroke="#6e6e6e" stroke-width="1.4" filter="url(#bl1)" opacity="0.8"/>
</g>
<circle cx="538.8" cy="109.5" r="3.8" fill="#d0d0d0" stroke="#a4a4a4" stroke-width="0.5" opacity="0.8"/>
<defs><radialGradient id="lobeW"><stop offset="0" stop-color="#fff" stop-opacity="0.95"/><stop offset="0.5" stop-color="#fff" stop-opacity="0.45"/><stop offset="1" stop-color="#fff" stop-opacity="0"/></radialGradient><radialGradient id="lobeD"><stop offset="0" stop-color="#000" stop-opacity="0.25"/><stop offset="1" stop-color="#000" stop-opacity="0"/></radialGradient></defs>
<clipPath id="vc6"><path d="M362.00,92.80 C364.83,88.45 380.41,95.28 386.30,95.40 C392.19,95.52 407.60,93.99 412.50,93.80 C417.40,93.61 424.31,93.31 428.30,93.80 C432.29,94.29 442.42,96.83 446.70,98.00 C450.98,99.17 460.71,101.75 465.00,103.80 C469.29,105.85 479.81,113.91 483.50,115.60 C487.19,117.29 493.23,117.38 496.60,118.30 C499.97,119.22 509.67,122.37 512.40,123.50 C515.13,124.63 518.62,125.70 520.00,128.00 C521.38,130.30 524.48,139.89 524.20,143.20 C523.92,146.51 519.60,153.27 517.60,156.40 C515.61,159.53 516.45,168.41 507.10,170.00 C497.75,171.59 445.47,171.90 437.50,170.00 C429.53,168.10 439.25,157.13 438.80,153.70 C438.35,150.27 436.67,142.43 433.60,140.60 C430.53,138.77 418.02,138.61 412.50,138.00 C406.98,137.39 392.19,136.02 386.30,135.40 C380.41,134.78 364.83,137.67 362.00,132.70 C359.17,127.73 359.17,97.15 362.00,92.80Z"/></clipPath>
<path d="M362.00,92.80 C364.83,88.45 380.41,95.28 386.30,95.40 C392.19,95.52 407.60,93.99 412.50,93.80 C417.40,93.61 424.31,93.31 428.30,93.80 C432.29,94.29 442.42,96.83 446.70,98.00 C450.98,99.17 460.71,101.75 465.00,103.80 C469.29,105.85 479.81,113.91 483.50,115.60 C487.19,117.29 493.23,117.38 496.60,118.30 C499.97,119.22 509.67,122.37 512.40,123.50 C515.13,124.63 518.62,125.70 520.00,128.00 C521.38,130.30 524.48,139.89 524.20,143.20 C523.92,146.51 519.60,153.27 517.60,156.40 C515.61,159.53 516.45,168.41 507.10,170.00 C497.75,171.59 445.47,171.90 437.50,170.00 C429.53,168.10 439.25,157.13 438.80,153.70 C438.35,150.27 436.67,142.43 433.60,140.60 C430.53,138.77 418.02,138.61 412.50,138.00 C406.98,137.39 392.19,136.02 386.30,135.40 C380.41,134.78 364.83,137.67 362.00,132.70 C359.17,127.73 359.17,97.15 362.00,92.80Z" fill="#b0b0b0"/>
<g clip-path="url(#vc6)">
<path d="M424.4,94.6 Q428.3,111.7 438.8,140.6" fill="none" stroke="#6a6a6a" stroke-width="1.3" stroke-linecap="round" stroke-linejoin="round" opacity="0.9" filter="url(#bl2)"/>
<path d="M452,142 Q462,122 484,117" fill="none" stroke="#7a7a7a" stroke-width="1.2" stroke-linecap="round" stroke-linejoin="round" opacity="0.7" filter="url(#bl2)"/>
<path d="M488,140 Q494,126 505,121" fill="none" stroke="#7a7a7a" stroke-width="1.1" stroke-linecap="round" stroke-linejoin="round" opacity="0.6" filter="url(#bl2)"/>
<path d="M372,96 Q382,112 372,132" fill="none" stroke="#7a7a7a" stroke-width="1.4" stroke-linecap="round" stroke-linejoin="round" opacity="0.7" filter="url(#bl2)"/>
<path d="M362.00,92.80 C364.83,88.45 380.41,95.28 386.30,95.40 C392.19,95.52 407.60,93.99 412.50,93.80 C417.40,93.61 424.31,93.31 428.30,93.80 C432.29,94.29 442.42,96.83 446.70,98.00 C450.98,99.17 460.71,101.75 465.00,103.80 C469.29,105.85 479.81,113.91 483.50,115.60 C487.19,117.29 493.23,117.38 496.60,118.30 C499.97,119.22 509.67,122.37 512.40,123.50 C515.13,124.63 518.62,125.70 520.00,128.00 C521.38,130.30 524.48,139.89 524.20,143.20 C523.92,146.51 519.60,153.27 517.60,156.40 C515.61,159.53 516.45,168.41 507.10,170.00 C497.75,171.59 445.47,171.90 437.50,170.00 C429.53,168.10 439.25,157.13 438.80,153.70 C438.35,150.27 436.67,142.43 433.60,140.60 C430.53,138.77 418.02,138.61 412.50,138.00 C406.98,137.39 392.19,136.02 386.30,135.40 C380.41,134.78 364.83,137.67 362.00,132.70 C359.17,127.73 359.17,97.15 362.00,92.80Z" fill="none" stroke="#6a6a6a" stroke-width="3" filter="url(#bl1)" opacity="0.8"/>
</g>
<g clip-path="url(#vc6)">
<ellipse cx="398" cy="112" rx="30" ry="17" fill="url(#lobeW)" opacity="0.75"/>
<ellipse cx="395" cy="111" rx="6" ry="5" fill="url(#lobeW)" opacity="1"/>
<ellipse cx="452" cy="112" rx="28" ry="14" fill="url(#lobeW)" opacity="0.55"/>
<ellipse cx="480" cy="144" rx="36" ry="20" fill="url(#lobeW)" opacity="0.8"/>
<ellipse cx="476" cy="146" rx="9" ry="6" fill="url(#lobeW)" opacity="0.9"/>
<ellipse cx="510" cy="138" rx="10" ry="9" fill="url(#lobeW)" opacity="0.6"/>
<ellipse cx="375" cy="115" rx="8" ry="14" fill="url(#lobeD)" opacity="1"/>
<ellipse cx="465" cy="162" rx="40" ry="8" fill="url(#lobeD)" opacity="0.8"/>
<ellipse cx="430" cy="132" rx="20" ry="6" fill="url(#lobeD)" opacity="0.7"/>
</g>
<path d="M534.30,92.90 C529.12,89.17 534.08,85.50 535.50,82.10 C536.92,78.69 540.77,73.77 543.80,70.20 C546.83,66.63 551.41,61.87 555.70,58.30 C559.99,54.73 567.04,49.43 572.40,46.40 C577.75,43.37 585.68,39.81 591.40,38.10 C597.12,36.39 604.78,35.11 610.50,35.00 C616.22,34.89 625.04,36.05 629.50,37.40 C633.96,38.75 638.34,41.21 640.20,44.00 C642.06,46.79 642.25,51.71 641.90,56.00 C641.55,60.29 639.76,67.60 637.90,72.60 C636.04,77.59 632.90,83.94 629.50,89.30 C626.10,94.66 619.31,103.48 615.20,108.30 C611.09,113.11 608.88,121.59 602.10,121.40 C595.32,121.21 580.17,111.28 570.00,107.00 C559.83,102.72 539.47,96.64 534.30,92.90Z" fill="url(#eggG)"/>
<clipPath id="eggclip"><path d="M534.30,92.90 C529.12,89.17 534.08,85.50 535.50,82.10 C536.92,78.69 540.77,73.77 543.80,70.20 C546.83,66.63 551.41,61.87 555.70,58.30 C559.99,54.73 567.04,49.43 572.40,46.40 C577.75,43.37 585.68,39.81 591.40,38.10 C597.12,36.39 604.78,35.11 610.50,35.00 C616.22,34.89 625.04,36.05 629.50,37.40 C633.96,38.75 638.34,41.21 640.20,44.00 C642.06,46.79 642.25,51.71 641.90,56.00 C641.55,60.29 639.76,67.60 637.90,72.60 C636.04,77.59 632.90,83.94 629.50,89.30 C626.10,94.66 619.31,103.48 615.20,108.30 C611.09,113.11 608.88,121.59 602.10,121.40 C595.32,121.21 580.17,111.28 570.00,107.00 C559.83,102.72 539.47,96.64 534.30,92.90Z"/></clipPath><g clip-path="url(#eggclip)"><path d="M534.30,92.90 C529.12,89.17 534.08,85.50 535.50,82.10 C536.92,78.69 540.77,73.77 543.80,70.20 C546.83,66.63 551.41,61.87 555.70,58.30 C559.99,54.73 567.04,49.43 572.40,46.40 C577.75,43.37 585.68,39.81 591.40,38.10 C597.12,36.39 604.78,35.11 610.50,35.00 C616.22,34.89 625.04,36.05 629.50,37.40 C633.96,38.75 638.34,41.21 640.20,44.00 C642.06,46.79 642.25,51.71 641.90,56.00 C641.55,60.29 639.76,67.60 637.90,72.60 C636.04,77.59 632.90,83.94 629.50,89.30 C626.10,94.66 619.31,103.48 615.20,108.30 C611.09,113.11 608.88,121.59 602.10,121.40 C595.32,121.21 580.17,111.28 570.00,107.00 C559.83,102.72 539.47,96.64 534.30,92.90Z" fill="none" stroke="#9a9a9a" stroke-width="3" filter="url(#bl1)" opacity="0.7"/><ellipse cx="600" cy="62" rx="22" ry="14" transform="rotate(-30 600 62)" fill="url(#lobeW)" opacity="0.6"/></g>
<path d="M534.2,92.3 Q568,106 601.4,121.2" fill="none" stroke="#111" stroke-width="1.1"/><path d="M534.4,94.7 Q568,108.6 601.6,122.6" fill="none" stroke="#111" stroke-width="1"/>
<g stroke="#444" stroke-width="0.6" fill="none"><line x1="404" y1="41.5" x2="399" y2="60"/><line x1="377" y1="67.2" x2="391" y2="65.5"/><line x1="399" y1="67" x2="415" y2="77.5"/></g>
<path d="M390.5,61 l7,-2 l5,3 l0,6 l-7,2.5 l-5,-3z" fill="#d4d4d4" stroke="#666" stroke-width="0.5"/><path d="M390.5,67 l5,3 l7,-2.5 l-2,2 l-5,1.5 l-5,-2.5z" fill="#7a7a7a"/>
<text x="404.20" y="39.00" font-size="6.8" font-weight="normal" text-anchor="middle" fill="#111" style="font-family:Liberation Sans" >X</text>
<text x="372.50" y="71.00" font-size="6.8" font-weight="normal" text-anchor="middle" fill="#111" style="font-family:Liberation Sans" >Z</text>
<text x="418.70" y="83.00" font-size="6.8" font-weight="normal" text-anchor="middle" fill="#111" style="font-family:Liberation Sans" >Y</text>
</svg>
<line x1="365.80" y1="30.20" x2="671.80" y2="30.20" stroke="#cfcfcf" stroke-width="1" />
<line x1="365.80" y1="30.20" x2="365.80" y2="167.00" stroke="#cfcfcf" stroke-width="1" />
<line x1="671.80" y1="30.20" x2="671.80" y2="167.00" stroke="#cfcfcf" stroke-width="1" />
<line x1="365.80" y1="167.00" x2="671.80" y2="167.00" stroke="#cfcfcf" stroke-width="1" />
</svg></body></html>
